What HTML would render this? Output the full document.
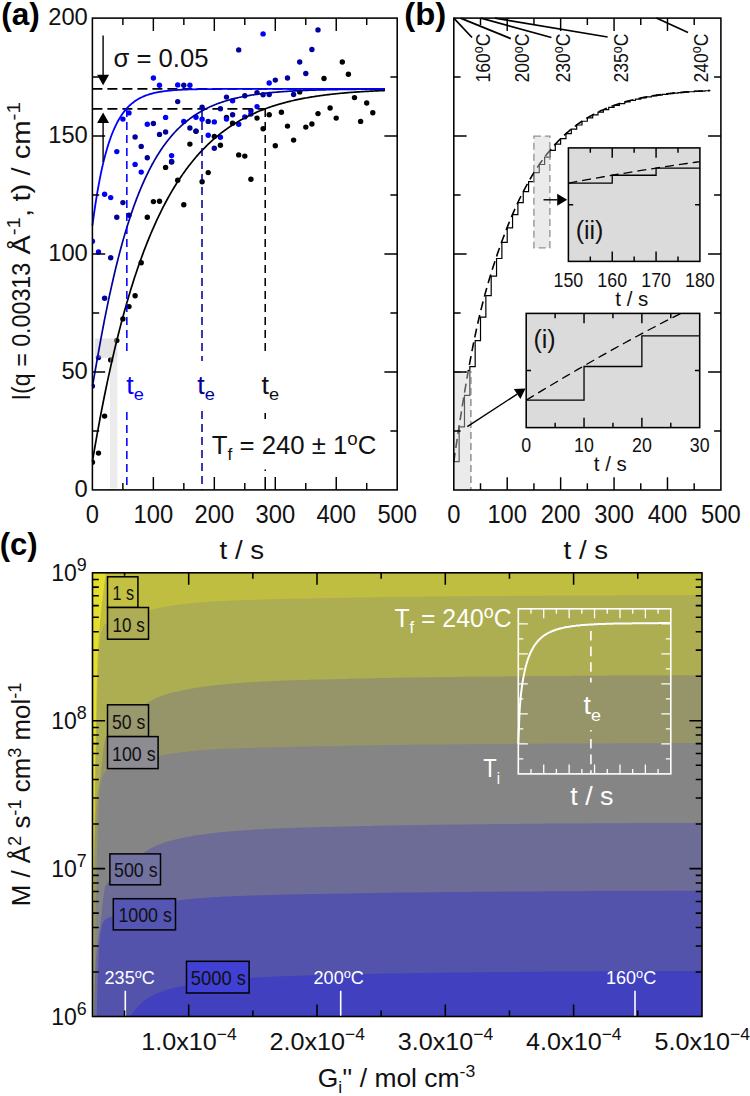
<!DOCTYPE html>
<html><head><meta charset="utf-8"><title>figure</title>
<style>html,body{margin:0;padding:0;background:#fff}svg{display:block}text{font-family:"Liberation Sans", sans-serif;}</style></head>
<body>
<svg width="750" height="1096" viewBox="0 0 750 1096">
<rect width="750" height="1096" fill="#fff"/>
<g id="panelA">
<line x1="92.40" y1="88.87" x2="385.01" y2="88.87" stroke="#000" stroke-width="1.6" stroke-dasharray="10 5"/>
<line x1="92.40" y1="108.92" x2="264.92" y2="108.92" stroke="#000" stroke-width="1.6" stroke-dasharray="10 5"/>
<clipPath id="clipA"><rect x="92.4" y="18.1" width="304.8" height="471.8"/></clipPath>
<g fill="#000" clip-path="url(#clipA)"><circle cx="92.4" cy="462.3" r="2.7"/><circle cx="98.5" cy="453.1" r="2.7"/><circle cx="104.6" cy="416.1" r="2.7"/><circle cx="110.7" cy="359.9" r="2.7"/><circle cx="116.8" cy="340.6" r="2.7"/><circle cx="122.9" cy="318.9" r="2.7"/><circle cx="129.0" cy="306.6" r="2.7"/><circle cx="135.1" cy="295.8" r="2.7"/><circle cx="141.2" cy="262.7" r="2.7"/><circle cx="147.3" cy="217.2" r="2.7"/><circle cx="153.4" cy="201.6" r="2.7"/><circle cx="159.5" cy="201.2" r="2.7"/><circle cx="165.6" cy="167.4" r="2.7"/><circle cx="171.6" cy="162.0" r="2.7"/><circle cx="177.7" cy="180.2" r="2.7"/><circle cx="183.8" cy="204.7" r="2.7"/><circle cx="189.9" cy="144.1" r="2.7"/><circle cx="196.0" cy="131.3" r="2.7"/><circle cx="202.1" cy="181.8" r="2.7"/><circle cx="208.2" cy="172.6" r="2.7"/><circle cx="214.3" cy="136.5" r="2.7"/><circle cx="220.4" cy="145.3" r="2.7"/><circle cx="226.5" cy="117.4" r="2.7"/><circle cx="232.6" cy="123.3" r="2.7"/><circle cx="238.7" cy="154.9" r="2.7"/><circle cx="244.8" cy="156.1" r="2.7"/><circle cx="250.9" cy="179.2" r="2.7"/><circle cx="257.0" cy="118.1" r="2.7"/><circle cx="263.1" cy="128.7" r="2.7"/><circle cx="269.2" cy="114.8" r="2.7"/><circle cx="275.3" cy="145.7" r="2.7"/><circle cx="281.4" cy="112.2" r="2.7"/><circle cx="287.5" cy="126.1" r="2.7"/><circle cx="293.6" cy="140.1" r="2.7"/><circle cx="299.7" cy="91.9" r="2.7"/><circle cx="305.8" cy="127.1" r="2.7"/><circle cx="311.9" cy="124.0" r="2.7"/><circle cx="318.0" cy="113.6" r="2.7"/><circle cx="324.0" cy="78.5" r="2.7"/><circle cx="330.1" cy="108.0" r="2.7"/><circle cx="336.2" cy="118.1" r="2.7"/><circle cx="342.3" cy="62.0" r="2.7"/><circle cx="348.4" cy="74.2" r="2.7"/><circle cx="354.5" cy="97.6" r="2.7"/><circle cx="360.6" cy="121.4" r="2.7"/><circle cx="366.7" cy="103.0" r="2.7"/><circle cx="372.8" cy="112.7" r="2.7"/></g>
<g fill="#00009a" clip-path="url(#clipA)"><circle cx="92.4" cy="386.1" r="2.7"/><circle cx="98.5" cy="357.6" r="2.7"/><circle cx="104.6" cy="298.3" r="2.7"/><circle cx="110.7" cy="257.8" r="2.7"/><circle cx="116.8" cy="217.2" r="2.7"/><circle cx="122.9" cy="202.6" r="2.7"/><circle cx="129.0" cy="215.3" r="2.7"/><circle cx="135.1" cy="137.0" r="2.7"/><circle cx="141.2" cy="146.4" r="2.7"/><circle cx="147.3" cy="157.8" r="2.7"/><circle cx="153.4" cy="123.5" r="2.7"/><circle cx="159.5" cy="134.4" r="2.7"/><circle cx="165.6" cy="132.0" r="2.7"/><circle cx="171.6" cy="161.5" r="2.7"/><circle cx="177.7" cy="101.6" r="2.7"/><circle cx="183.8" cy="85.3" r="2.7"/><circle cx="189.9" cy="128.0" r="2.7"/><circle cx="196.0" cy="131.1" r="2.7"/><circle cx="202.1" cy="107.3" r="2.7"/><circle cx="208.2" cy="121.4" r="2.7"/><circle cx="214.3" cy="148.3" r="2.7"/><circle cx="220.4" cy="108.7" r="2.7"/><circle cx="226.5" cy="97.1" r="2.7"/><circle cx="232.6" cy="114.8" r="2.7"/><circle cx="238.7" cy="49.9" r="2.7"/><circle cx="244.8" cy="95.7" r="2.7"/><circle cx="250.9" cy="110.8" r="2.7"/><circle cx="257.0" cy="92.6" r="2.7"/><circle cx="263.1" cy="94.8" r="2.7"/><circle cx="269.2" cy="94.5" r="2.7"/><circle cx="275.3" cy="80.1" r="2.7"/><circle cx="287.5" cy="78.0" r="2.7"/><circle cx="293.6" cy="94.5" r="2.7"/><circle cx="299.7" cy="62.0" r="2.7"/><circle cx="305.8" cy="73.5" r="2.7"/><circle cx="311.9" cy="49.5" r="2.7"/><circle cx="318.0" cy="29.9" r="2.7"/></g>
<g fill="#0000ff" clip-path="url(#clipA)"><circle cx="92.4" cy="241.3" r="2.7"/><circle cx="98.5" cy="251.9" r="2.7"/><circle cx="104.6" cy="194.3" r="2.7"/><circle cx="110.7" cy="197.6" r="2.7"/><circle cx="116.8" cy="151.6" r="2.7"/><circle cx="122.9" cy="119.1" r="2.7"/><circle cx="129.0" cy="112.9" r="2.7"/><circle cx="135.1" cy="164.4" r="2.7"/><circle cx="141.2" cy="172.1" r="2.7"/><circle cx="147.3" cy="124.3" r="2.7"/><circle cx="153.4" cy="78.0" r="2.7"/><circle cx="159.5" cy="85.3" r="2.7"/><circle cx="165.6" cy="117.4" r="2.7"/><circle cx="171.6" cy="155.6" r="2.7"/><circle cx="177.7" cy="84.9" r="2.7"/><circle cx="183.8" cy="121.4" r="2.7"/><circle cx="189.9" cy="85.3" r="2.7"/><circle cx="196.0" cy="117.2" r="2.7"/><circle cx="202.1" cy="119.3" r="2.7"/><circle cx="208.2" cy="135.3" r="2.7"/><circle cx="214.3" cy="121.9" r="2.7"/><circle cx="220.4" cy="137.2" r="2.7"/><circle cx="226.5" cy="119.1" r="2.7"/><circle cx="232.6" cy="100.7" r="2.7"/><circle cx="238.7" cy="124.3" r="2.7"/><circle cx="244.8" cy="116.9" r="2.7"/><circle cx="250.9" cy="114.1" r="2.7"/><circle cx="257.0" cy="106.6" r="2.7"/><circle cx="263.1" cy="33.9" r="2.7"/><circle cx="269.2" cy="83.0" r="2.7"/></g>
<rect x="94.9" y="338.4" width="15.1" height="19.4" fill="#c0c0c0" opacity="0.42"/>
<rect x="110" y="338.4" width="7.4" height="19.4" fill="#c0c0c0" opacity="0.45"/>
<rect x="110" y="357.8" width="7.4" height="130.6" fill="#d1d1d1" opacity="0.43"/>
<path d="M92.40 461.59L93.62 454.35L94.84 447.26L96.06 440.30L97.28 433.47L98.50 426.78L99.72 420.22L100.93 413.78L102.15 407.47L103.37 401.28L104.59 395.21L105.81 389.26L107.03 383.42L108.25 377.69L109.47 372.08L110.69 366.57L111.91 361.17L113.13 355.87L114.35 350.67L115.56 345.57L116.78 340.57L118.00 335.67L119.22 330.86L120.44 326.14L121.66 321.52L122.88 316.98L124.10 312.53L125.32 308.16L126.54 303.88L127.76 299.67L128.98 295.55L130.20 291.51L131.41 287.54L132.63 283.65L133.85 279.84L135.07 276.10L136.29 272.42L137.51 268.82L138.73 265.29L139.95 261.82L141.17 258.42L142.39 255.09L143.61 251.82L144.83 248.61L146.04 245.46L147.26 242.37L148.48 239.34L149.70 236.37L150.92 233.46L152.14 230.60L153.36 227.79L154.58 225.04L155.80 222.34L157.02 219.69L158.24 217.09L159.46 214.55L160.68 212.05L161.89 209.59L163.11 207.19L164.33 204.83L165.55 202.51L166.77 200.24L167.99 198.02L169.21 195.83L170.43 193.69L171.65 191.59L172.87 189.52L174.09 187.50L175.31 185.52L176.52 183.57L177.74 181.66L178.96 179.79L180.18 177.95L181.40 176.15L182.62 174.38L183.84 172.65L185.06 170.95L186.28 169.28L187.50 167.65L188.72 166.04L189.94 164.47L191.16 162.93L192.37 161.41L193.59 159.93L194.81 158.47L196.03 157.04L197.25 155.64L198.47 154.27L199.69 152.92L200.91 151.60L202.13 150.31L203.35 149.04L204.57 147.79L205.79 146.57L207.00 145.37L208.22 144.20L209.44 143.04L210.66 141.92L211.88 140.81L213.10 139.72L214.32 138.66L215.54 137.61L216.76 136.59L217.98 135.59L219.20 134.60L220.42 133.64L221.64 132.69L222.85 131.76L224.07 130.86L225.29 129.96L226.51 129.09L227.73 128.23L228.95 127.39L230.17 126.57L231.39 125.76L232.61 124.97L233.83 124.20L235.05 123.44L236.27 122.69L237.48 121.97L238.70 121.25L239.92 120.55L241.14 119.86L242.36 119.19L243.58 118.53L244.80 117.88L246.02 117.25L247.24 116.63L248.46 116.02L249.68 115.42L250.90 114.84L252.12 114.27L253.33 113.71L254.55 113.16L255.77 112.62L256.99 112.09L258.21 111.58L259.43 111.07L260.65 110.57L261.87 110.09L263.09 109.61L264.31 109.15L265.53 108.69L266.75 108.25L267.96 107.81L269.18 107.38L270.40 106.96L271.62 106.55L272.84 106.15L274.06 105.75L275.28 105.37L276.50 104.99L277.72 104.62L278.94 104.26L280.16 103.90L281.38 103.56L282.60 103.22L283.81 102.88L285.03 102.56L286.25 102.24L287.47 101.93L288.69 101.62L289.91 101.32L291.13 101.03L292.35 100.75L293.57 100.47L294.79 100.19L296.01 99.92L297.23 99.66L298.44 99.41L299.66 99.15L300.88 98.91L302.10 98.67L303.32 98.43L304.54 98.20L305.76 97.98L306.98 97.76L308.20 97.54L309.42 97.33L310.64 97.13L311.86 96.93L313.08 96.73L314.29 96.54L315.51 96.35L316.73 96.17L317.95 95.99L319.17 95.81L320.39 95.64L321.61 95.47L322.83 95.31L324.05 95.15L325.27 94.99L326.49 94.84L327.71 94.69L328.92 94.54L330.14 94.40L331.36 94.26L332.58 94.12L333.80 93.99L335.02 93.86L336.24 93.73L337.46 93.61L338.68 93.48L339.90 93.37L341.12 93.25L342.34 93.14L343.56 93.03L344.77 92.92L345.99 92.81L347.21 92.71L348.43 92.61L349.65 92.51L350.87 92.42L352.09 92.32L353.31 92.23L354.53 92.14L355.75 92.06L356.97 91.97L358.19 91.89L359.40 91.81L360.62 91.73L361.84 91.65L363.06 91.58L364.28 91.50L365.50 91.43L366.72 91.36L367.94 91.30L369.16 91.23L370.38 91.16L371.60 91.10L372.82 91.04L374.04 90.98L375.25 90.92L376.47 90.87L377.69 90.81L378.91 90.76L380.13 90.70L381.35 90.65L382.57 90.60L383.79 90.55L385.01 90.51" fill="none" stroke="#000" stroke-width="1.7"/>
<path d="M92.40 386.10L93.62 379.60L94.84 372.71L96.06 365.77L97.28 358.87L98.50 352.03L99.72 345.29L100.93 338.65L102.15 332.13L103.37 325.73L104.59 319.46L105.81 313.32L107.03 307.31L108.25 301.44L109.47 295.69L110.69 290.08L111.91 284.60L113.13 279.24L114.35 274.02L115.56 268.92L116.78 263.95L118.00 259.10L119.22 254.37L120.44 249.76L121.66 245.27L122.88 240.89L124.10 236.62L125.32 232.47L126.54 228.42L127.76 224.48L128.98 220.64L130.20 216.90L131.41 213.26L132.63 209.72L133.85 206.27L135.07 202.92L136.29 199.66L137.51 196.48L138.73 193.39L139.95 190.39L141.17 187.46L142.39 184.62L143.61 181.85L144.83 179.16L146.04 176.55L147.26 174.01L148.48 171.53L149.70 169.13L150.92 166.79L152.14 164.52L153.36 162.31L154.58 160.17L155.80 158.08L157.02 156.05L158.24 154.08L159.46 152.17L160.68 150.31L161.89 148.50L163.11 146.75L164.33 145.04L165.55 143.38L166.77 141.77L167.99 140.21L169.21 138.69L170.43 137.22L171.65 135.78L172.87 134.39L174.09 133.04L175.31 131.73L176.52 130.45L177.74 129.21L178.96 128.01L180.18 126.84L181.40 125.71L182.62 124.61L183.84 123.54L185.06 122.50L186.28 121.50L187.50 120.52L188.72 119.57L189.94 118.65L191.16 117.75L192.37 116.88L193.59 116.04L194.81 115.22L196.03 114.43L197.25 113.66L198.47 112.91L199.69 112.19L200.91 111.48L202.13 110.80L203.35 110.14L204.57 109.49L205.79 108.87L207.00 108.26L208.22 107.67L209.44 107.10L210.66 106.55L211.88 106.01L213.10 105.49L214.32 104.99L215.54 104.49L216.76 104.02L217.98 103.56L219.20 103.11L220.42 102.68L221.64 102.25L222.85 101.85L224.07 101.45L225.29 101.06L226.51 100.69L227.73 100.33L228.95 99.98L230.17 99.64L231.39 99.31L232.61 98.99L233.83 98.68L235.05 98.38L236.27 98.08L237.48 97.80L238.70 97.53L239.92 97.26L241.14 97.00L242.36 96.75L243.58 96.51L244.80 96.27L246.02 96.05L247.24 95.82L248.46 95.61L249.68 95.40L250.90 95.20L252.12 95.00L253.33 94.81L254.55 94.63L255.77 94.45L256.99 94.28L258.21 94.11L259.43 93.95L260.65 93.79L261.87 93.64L263.09 93.49L264.31 93.35L265.53 93.21L266.75 93.07L267.96 92.94L269.18 92.82L270.40 92.69L271.62 92.57L272.84 92.46L274.06 92.35L275.28 92.24L276.50 92.13L277.72 92.03L278.94 91.93L280.16 91.84L281.38 91.75L282.60 91.66L283.81 91.57L285.03 91.48L286.25 91.40L287.47 91.32L288.69 91.25L289.91 91.17L291.13 91.10L292.35 91.03L293.57 90.96L294.79 90.90L296.01 90.83L297.23 90.77L298.44 90.71L299.66 90.65L300.88 90.60L302.10 90.54L303.32 90.49L304.54 90.44L305.76 90.39L306.98 90.34L308.20 90.30L309.42 90.25L310.64 90.21L311.86 90.17L313.08 90.13L314.29 90.09L315.51 90.05L316.73 90.01L317.95 89.97L319.17 89.94L320.39 89.91L321.61 89.87L322.83 89.84L324.05 89.81L325.27 89.78L326.49 89.75L327.71 89.72L328.92 89.70L330.14 89.67L331.36 89.65L332.58 89.62L333.80 89.60L335.02 89.57L336.24 89.55L337.46 89.53L338.68 89.51L339.90 89.49L341.12 89.47L342.34 89.45L343.56 89.43L344.77 89.41L345.99 89.40L347.21 89.38L348.43 89.36L349.65 89.35L350.87 89.33L352.09 89.32L353.31 89.30L354.53 89.29L355.75 89.28L356.97 89.26L358.19 89.25L359.40 89.24L360.62 89.23L361.84 89.22L363.06 89.21L364.28 89.19L365.50 89.18L366.72 89.17L367.94 89.16L369.16 89.15L370.38 89.15L371.60 89.14L372.82 89.13L374.04 89.12L375.25 89.11L376.47 89.10L377.69 89.10L378.91 89.09L380.13 89.08L381.35 89.08L382.57 89.07L383.79 89.06L385.01 89.06" fill="none" stroke="#00009a" stroke-width="1.7"/>
<path d="M92.40 225.69L93.62 216.57L94.84 208.06L96.06 200.12L97.28 192.71L98.50 185.79L99.72 179.33L100.93 173.30L102.15 167.67L103.37 162.42L104.59 157.52L105.81 152.95L107.03 148.68L108.25 144.69L109.47 140.97L110.69 137.50L111.91 134.26L113.13 131.23L114.35 128.41L115.56 125.77L116.78 123.32L118.00 121.02L119.22 118.88L120.44 116.88L121.66 115.01L122.88 113.27L124.10 111.64L125.32 110.13L126.54 108.71L127.76 107.39L128.98 106.15L130.20 105.00L131.41 103.93L132.63 102.92L133.85 101.99L135.07 101.11L136.29 100.30L137.51 99.53L138.73 98.82L139.95 98.16L141.17 97.54L142.39 96.96L143.61 96.42L144.83 95.92L146.04 95.45L147.26 95.01L148.48 94.60L149.70 94.22L150.92 93.86L152.14 93.53L153.36 93.22L154.58 92.93L155.80 92.66L157.02 92.41L158.24 92.17L159.46 91.95L160.68 91.75L161.89 91.55L163.11 91.38L164.33 91.21L165.55 91.05L166.77 90.91L167.99 90.77L169.21 90.65L170.43 90.53L171.65 90.42L172.87 90.31L174.09 90.22L175.31 90.13L176.52 90.04L177.74 89.97L178.96 89.89L180.18 89.82L181.40 89.76L182.62 89.70L183.84 89.65L185.06 89.59L186.28 89.55L187.50 89.50L188.72 89.46L189.94 89.42L191.16 89.38L192.37 89.35L193.59 89.32L194.81 89.29L196.03 89.26L197.25 89.23L198.47 89.21L199.69 89.19L200.91 89.17L202.13 89.15L203.35 89.13L204.57 89.11L205.79 89.09L207.00 89.08L208.22 89.07L209.44 89.05L210.66 89.04L211.88 89.03L213.10 89.02L214.32 89.01L215.54 89.00L216.76 88.99L217.98 88.98L219.20 88.98L220.42 88.97L221.64 88.96L222.85 88.96L224.07 88.95L225.29 88.94L226.51 88.94L227.73 88.93L228.95 88.93L230.17 88.93L231.39 88.92L232.61 88.92L233.83 88.92L235.05 88.91L236.27 88.91L237.48 88.91L238.70 88.90L239.92 88.90L241.14 88.90L242.36 88.90L243.58 88.90L244.80 88.89L246.02 88.89L247.24 88.89L248.46 88.89L249.68 88.89L250.90 88.89L252.12 88.89L253.33 88.89L254.55 88.88L255.77 88.88L256.99 88.88L258.21 88.88L259.43 88.88L260.65 88.88L261.87 88.88L263.09 88.88L264.31 88.88L265.53 88.88L266.75 88.88L267.96 88.88L269.18 88.88L270.40 88.88L271.62 88.88L272.84 88.88L274.06 88.87L275.28 88.87L276.50 88.87L277.72 88.87L278.94 88.87L280.16 88.87L281.38 88.87L282.60 88.87L283.81 88.87L285.03 88.87L286.25 88.87L287.47 88.87L288.69 88.87L289.91 88.87L291.13 88.87L292.35 88.87L293.57 88.87L294.79 88.87L296.01 88.87L297.23 88.87L298.44 88.87L299.66 88.87L300.88 88.87L302.10 88.87L303.32 88.87L304.54 88.87L305.76 88.87L306.98 88.87L308.20 88.87L309.42 88.87L310.64 88.87L311.86 88.87L313.08 88.87L314.29 88.87L315.51 88.87L316.73 88.87L317.95 88.87L319.17 88.87L320.39 88.87L321.61 88.87L322.83 88.87L324.05 88.87L325.27 88.87L326.49 88.87L327.71 88.87L328.92 88.87L330.14 88.87L331.36 88.87L332.58 88.87L333.80 88.87L335.02 88.87L336.24 88.87L337.46 88.87L338.68 88.87L339.90 88.87L341.12 88.87L342.34 88.87L343.56 88.87L344.77 88.87L345.99 88.87L347.21 88.87L348.43 88.87L349.65 88.87L350.87 88.87L352.09 88.87L353.31 88.87L354.53 88.87L355.75 88.87L356.97 88.87L358.19 88.87L359.40 88.87L360.62 88.87L361.84 88.87L363.06 88.87L364.28 88.87L365.50 88.87L366.72 88.87L367.94 88.87L369.16 88.87L370.38 88.87L371.60 88.87L372.82 88.87L374.04 88.87L375.25 88.87L376.47 88.87L377.69 88.87L378.91 88.87L380.13 88.87L381.35 88.87L382.57 88.87L383.79 88.87L385.01 88.87" fill="none" stroke="#0000ff" stroke-width="1.8"/>
<line x1="126.84" y1="108.92" x2="126.84" y2="354.00" stroke="#0000ff" stroke-width="1.55" stroke-dasharray="8 5"/>
<line x1="126.84" y1="412.00" x2="126.84" y2="489.90" stroke="#0000ff" stroke-width="1.55" stroke-dasharray="8 5"/>
<line x1="202.01" y1="108.92" x2="202.01" y2="361.00" stroke="#00009a" stroke-width="1.55" stroke-dasharray="8 5"/>
<line x1="202.01" y1="411.00" x2="202.01" y2="489.90" stroke="#00009a" stroke-width="1.55" stroke-dasharray="8 5"/>
<line x1="265.22" y1="108.92" x2="265.22" y2="353.00" stroke="#000" stroke-width="1.55" stroke-dasharray="8 5"/>
<line x1="265.22" y1="413.00" x2="265.22" y2="419.00" stroke="#000" stroke-width="1.55" />
<line x1="265.22" y1="469.50" x2="265.22" y2="471.00" stroke="#000" stroke-width="1.55" />
<line x1="265.22" y1="477.00" x2="265.22" y2="489.90" stroke="#000" stroke-width="1.55" />
<line x1="103.10" y1="35.50" x2="103.10" y2="76.80" stroke="#000" stroke-width="1.4" />
<path d="M103.1 85.2L97.1 74.7L109.1 74.7Z" fill="#000"/>
<line x1="103.10" y1="162.00" x2="103.10" y2="120.80" stroke="#000" stroke-width="1.4" />
<path d="M103.1 112.4L97.1 122.9L109.1 122.9Z" fill="#000"/>
<path d="M153.36 489.90v-12.8M153.36 18.10v12.8M214.32 489.90v-12.8M214.32 18.10v12.8M275.28 489.90v-12.8M275.28 18.10v12.8M336.24 489.90v-12.8M336.24 18.10v12.8M122.88 489.90v-6.8M122.88 18.10v6.8M183.84 489.90v-6.8M183.84 18.10v6.8M244.80 489.90v-6.8M244.80 18.10v6.8M305.76 489.90v-6.8M305.76 18.10v6.8M366.72 489.90v-6.8M366.72 18.10v6.8M92.40 371.95h12.8M397.20 371.95h-12.8M92.40 254.00h12.8M397.20 254.00h-12.8M92.40 136.05h12.8M397.20 136.05h-12.8M92.40 430.92h6.8M397.20 430.92h-6.8M92.40 312.97h6.8M397.20 312.97h-6.8M92.40 195.03h6.8M397.20 195.03h-6.8M92.40 77.08h6.8M397.20 77.08h-6.8" stroke="#000" stroke-width="1.45" fill="none"/>
<rect x="92.40" y="18.10" width="304.80" height="471.80" fill="none" stroke="#000" stroke-width="1.55"/>
<text x="87.8" y="496.6" font-size="24.8" text-anchor="end" fill="#111" textLength="13.2" lengthAdjust="spacingAndGlyphs" >0</text>
<text x="87.8" y="378.6" font-size="24.8" text-anchor="end" fill="#111" textLength="26.4" lengthAdjust="spacingAndGlyphs" >50</text>
<text x="87.8" y="260.7" font-size="24.8" text-anchor="end" fill="#111" textLength="39.6" lengthAdjust="spacingAndGlyphs" >100</text>
<text x="87.8" y="142.7" font-size="24.8" text-anchor="end" fill="#111" textLength="39.6" lengthAdjust="spacingAndGlyphs" >150</text>
<text x="87.8" y="24.8" font-size="24.8" text-anchor="end" fill="#111" textLength="39.6" lengthAdjust="spacingAndGlyphs" >200</text>
<text x="85.8" y="523.2" font-size="25.2" text-anchor="start" fill="#111" textLength="13.2" lengthAdjust="spacingAndGlyphs" >0</text>
<text x="133.6" y="523.2" font-size="25.2" text-anchor="start" fill="#111" textLength="39.6" lengthAdjust="spacingAndGlyphs" >100</text>
<text x="194.5" y="523.2" font-size="25.2" text-anchor="start" fill="#111" textLength="39.6" lengthAdjust="spacingAndGlyphs" >200</text>
<text x="255.5" y="523.2" font-size="25.2" text-anchor="start" fill="#111" textLength="39.6" lengthAdjust="spacingAndGlyphs" >300</text>
<text x="316.4" y="523.2" font-size="25.2" text-anchor="start" fill="#111" textLength="39.6" lengthAdjust="spacingAndGlyphs" >400</text>
<text x="377.4" y="523.2" font-size="25.2" text-anchor="start" fill="#111" textLength="39.6" lengthAdjust="spacingAndGlyphs" >500</text>
<text x="219.6" y="558.6" font-size="25.5" text-anchor="start" fill="#111" textLength="44.6" lengthAdjust="spacingAndGlyphs" >t / s</text>
<text transform="translate(29.9 400.4) rotate(-90)" font-size="25.5" fill="#111" textLength="137.6" lengthAdjust="spacingAndGlyphs">I(q = 0.00313</text>
<text transform="translate(29.9 254.6) rotate(-90)" font-size="25.5" fill="#111" textLength="45.6" lengthAdjust="spacingAndGlyphs">Å<tspan font-size="18" dy="-9.5">-1</tspan><tspan dy="9.5">,</tspan></text>
<text transform="translate(29.9 201.6) rotate(-90)" font-size="25.5" fill="#111" textLength="99.6" lengthAdjust="spacingAndGlyphs">t) / cm<tspan font-size="18" dy="-9.5">-1</tspan></text>
<text x="113.5" y="67.0" font-size="25.5" text-anchor="start" fill="#111" textLength="95.0" lengthAdjust="spacingAndGlyphs" >σ = 0.05</text>
<text x="211.8" y="454.2" font-size="25.5" fill="#111" textLength="164.5" lengthAdjust="spacingAndGlyphs">T<tspan font-size="17" dy="6">f</tspan><tspan dy="-6"> = 240 ± 1</tspan><tspan font-size="18.5" dy="-9.5">o</tspan><tspan dy="9.5">C</tspan></text>
<text x="126.2" y="393.6" font-size="25.5" fill="#0000ff" textLength="17.6" lengthAdjust="spacingAndGlyphs">t<tspan font-size="17.3" dy="6.5">e</tspan></text>
<text x="197.2" y="393.6" font-size="25.5" fill="#00009a" textLength="17.6" lengthAdjust="spacingAndGlyphs">t<tspan font-size="17.3" dy="6.5">e</tspan></text>
<text x="261.6" y="393.6" font-size="25.5" fill="#111" textLength="17.6" lengthAdjust="spacingAndGlyphs">t<tspan font-size="17.3" dy="6.5">e</tspan></text>
<text x="1.2" y="24.6" font-size="31" text-anchor="start" fill="#000" textLength="38.6" lengthAdjust="spacingAndGlyphs" font-weight="bold" >(a)</text>
</g>
<g id="panelB">
<line x1="453.80" y1="18.10" x2="472.00" y2="37.50" stroke="#000" stroke-width="1.7" />
<line x1="460.50" y1="18.10" x2="510.80" y2="38.60" stroke="#000" stroke-width="1.7" />
<line x1="481.00" y1="18.10" x2="551.40" y2="37.50" stroke="#000" stroke-width="1.7" />
<line x1="495.00" y1="18.10" x2="607.60" y2="37.00" stroke="#000" stroke-width="1.7" />
<line x1="656.40" y1="18.10" x2="688.00" y2="32.40" stroke="#000" stroke-width="1.7" />
<text transform="translate(489.5 82.6) rotate(-90)" font-size="20.5" fill="#111" textLength="49.0" lengthAdjust="spacingAndGlyphs">160<tspan font-size="14.5" dy="-6.3">o</tspan><tspan dy="6.3">C</tspan></text>
<text transform="translate(529.2 82.6) rotate(-90)" font-size="20.5" fill="#111" textLength="49.0" lengthAdjust="spacingAndGlyphs">200<tspan font-size="14.5" dy="-6.3">o</tspan><tspan dy="6.3">C</tspan></text>
<text transform="translate(569.6 82.6) rotate(-90)" font-size="20.5" fill="#111" textLength="49.0" lengthAdjust="spacingAndGlyphs">230<tspan font-size="14.5" dy="-6.3">o</tspan><tspan dy="6.3">C</tspan></text>
<text transform="translate(628.4 82.6) rotate(-90)" font-size="20.5" fill="#111" textLength="49.0" lengthAdjust="spacingAndGlyphs">235<tspan font-size="14.5" dy="-6.3">o</tspan><tspan dy="6.3">C</tspan></text>
<text transform="translate(707.6 82.6) rotate(-90)" font-size="20.5" fill="#111" textLength="49.0" lengthAdjust="spacingAndGlyphs">240<tspan font-size="14.5" dy="-6.3">o</tspan><tspan dy="6.3">C</tspan></text>
<path d="M453.80 461.69L454.87 454.42L455.94 447.23L457.01 440.13L458.07 433.11L459.14 426.18L460.21 419.33L461.28 412.57L462.35 405.91L463.42 399.35L464.48 392.90L465.55 386.56L466.62 380.34L467.69 374.24L468.76 368.27L469.83 362.44L470.89 356.74L471.96 351.18L473.03 345.76L474.10 340.49L475.17 335.35L476.24 330.36L477.30 325.51L478.37 320.79L479.44 316.20L480.51 311.74L481.58 307.41L482.65 303.19L483.72 299.08L484.78 295.08L485.85 291.18L486.92 287.37L487.99 283.65L489.06 280.02L490.13 276.46L491.19 272.98L492.26 269.56L493.33 266.21L494.40 262.91L495.47 259.68L496.54 256.50L497.60 253.37L498.67 250.29L499.74 247.26L500.81 244.28L501.88 241.34L502.95 238.45L504.01 235.60L505.08 232.79L506.15 230.03L507.22 227.31L508.29 224.64L509.36 222.01L510.43 219.42L511.49 216.87L512.56 214.36L513.63 211.90L514.70 209.48L515.77 207.10L516.84 204.76L517.90 202.47L518.97 200.21L520.04 198.00L521.11 195.82L522.18 193.69L523.25 191.59L524.31 189.54L525.38 187.52L526.45 185.54L527.52 183.59L528.59 181.69L529.66 179.82L530.72 177.98L531.79 176.18L532.86 174.41L533.93 172.68L535.00 170.98L536.07 169.31L537.14 167.68L538.20 166.07L539.27 164.50L540.34 162.96L541.41 161.44L542.48 159.96L543.55 158.50L544.61 157.07L545.68 155.67L546.75 154.30L547.82 152.95L548.89 151.63L549.96 150.33L551.02 149.06L552.09 147.82L553.16 146.60L554.23 145.40L555.30 144.22L556.37 143.07L557.43 141.94L558.50 140.83L559.57 139.75L560.64 138.68L561.71 137.64L562.78 136.61L563.85 135.61L564.91 134.63L565.98 133.66L567.05 132.72L568.12 131.79L569.19 130.88L570.26 129.99L571.32 129.11L572.39 128.26L573.46 127.42L574.53 126.59L575.60 125.79L576.67 125.00L577.73 124.22L578.80 123.46L579.87 122.72L580.94 121.99L582.01 121.27L583.08 120.57L584.14 119.88L585.21 119.21L586.28 118.55L587.35 117.90L588.42 117.27L589.49 116.65L590.56 116.04L591.62 115.44L592.69 114.86L593.76 114.29L594.83 113.73L595.90 113.18L596.97 112.64L598.03 112.11L599.10 111.60L600.17 111.09L601.24 110.59L602.31 110.11L603.38 109.63L604.44 109.17L605.51 108.71L606.58 108.26L607.65 107.83L608.72 107.40L609.79 106.98L610.85 106.57L611.92 106.17L612.99 105.77L614.06 105.39L615.13 105.01L616.20 104.64L617.27 104.28L618.33 103.92L619.40 103.57L620.47 103.23L621.54 102.90L622.61 102.58L623.68 102.26L624.74 101.95L625.81 101.64L626.88 101.34L627.95 101.05L629.02 100.76L630.09 100.48L631.15 100.21L632.22 99.94L633.29 99.68L634.36 99.42L635.43 99.17L636.50 98.93L637.56 98.69L638.63 98.45L639.70 98.22L640.77 98.00L641.84 97.78L642.91 97.56L643.98 97.35L645.04 97.14L646.11 96.94L647.18 96.75L648.25 96.55L649.32 96.37L650.39 96.18L651.45 96.00L652.52 95.83L653.59 95.65L654.66 95.49L655.73 95.32L656.80 95.16L657.86 95.01L658.93 94.85L660.00 94.70L661.07 94.56L662.14 94.41L663.21 94.27L664.27 94.14L665.34 94.00L666.41 93.87L667.48 93.75L668.55 93.62L669.62 93.50L670.69 93.38L671.75 93.27L672.82 93.15L673.89 93.04L674.96 92.93L676.03 92.83L677.10 92.73L678.16 92.63L679.23 92.53L680.30 92.43L681.37 92.34L682.44 92.25L683.51 92.16L684.57 92.07L685.64 91.99L686.71 91.90L687.78 91.82L688.85 91.74L689.92 91.67L690.98 91.59L692.05 91.52L693.12 91.45L694.19 91.38L695.26 91.31L696.33 91.24L697.40 91.18L698.46 91.12L699.53 91.06L700.60 91.00L701.67 90.94L702.74 90.88L703.81 90.83L704.87 90.77L705.94 90.72L707.01 90.67L708.08 90.62L709.15 90.57L710.22 90.52" fill="none" stroke="#000" stroke-width="1.6" stroke-dasharray="9 5"/>
<path d="M453.80 461.69H459.14V426.87H464.48V395.29H469.83V366.64H475.17V340.64H480.51V317.04H485.85V295.61H491.19V276.15H496.54V258.48H501.88V242.42H507.22V227.84H512.56V214.59H517.90V202.55H523.25V191.62H528.59V181.70H533.93V172.68H539.27V164.50H544.61V157.07H549.96V150.33H555.30V144.22H560.64V138.68H565.98V133.66H571.32V129.11H576.67V125.00H582.01V121.27H587.35V117.90H592.69V114.86H598.03V112.11H603.38V109.63H608.72V107.40H614.06V105.39H619.40V103.57H624.74V101.95H630.09V100.48H635.43V99.17H640.77V98.00H646.11V96.94H651.45V96.00H656.80V95.16H662.14V94.41H667.48V93.75H672.82V93.15H678.16V92.63H683.51V92.16H688.85V91.74H694.19V91.38H699.53V91.06H704.87V90.77H710.22" fill="none" stroke="#000" stroke-width="1.2"/>
<rect x="454.4" y="372.0" width="16.5" height="118.0" fill="#d1d1d1" opacity="0.43"/>
<path d="M453.8 372.0H470.9V490.0" fill="none" stroke="#808080" stroke-width="1.3" stroke-dasharray="7 4"/>
<rect x="533.9" y="136.1" width="16.0" height="111.8" fill="#d1d1d1" fill-opacity="0.43" stroke="#909090" stroke-width="1.3" stroke-dasharray="7 4"/>
<path d="M507.22 490.00v-12.8M507.22 18.10v12.8M560.64 490.00v-12.8M560.64 18.10v12.8M614.06 490.00v-12.8M614.06 18.10v12.8M667.48 490.00v-12.8M667.48 18.10v12.8M480.51 490.00v-6.8M480.51 18.10v6.8M533.93 490.00v-6.8M533.93 18.10v6.8M587.35 490.00v-6.8M587.35 18.10v6.8M640.77 490.00v-6.8M640.77 18.10v6.8M694.19 490.00v-6.8M694.19 18.10v6.8M453.80 372.02h12.8M720.90 372.02h-12.8M453.80 254.05h12.8M720.90 254.05h-12.8M453.80 136.07h12.8M720.90 136.07h-12.8M453.80 431.01h6.8M720.90 431.01h-6.8M453.80 313.04h6.8M720.90 313.04h-6.8M453.80 195.06h6.8M720.90 195.06h-6.8M453.80 77.09h6.8M720.90 77.09h-6.8" stroke="#000" stroke-width="1.45" fill="none"/>
<rect x="453.80" y="18.10" width="267.10" height="471.90" fill="none" stroke="#000" stroke-width="1.55"/>
<text x="447.2" y="523.2" font-size="25.2" text-anchor="start" fill="#111" textLength="13.2" lengthAdjust="spacingAndGlyphs" >0</text>
<text x="487.4" y="523.2" font-size="25.2" text-anchor="start" fill="#111" textLength="39.6" lengthAdjust="spacingAndGlyphs" >100</text>
<text x="540.8" y="523.2" font-size="25.2" text-anchor="start" fill="#111" textLength="39.6" lengthAdjust="spacingAndGlyphs" >200</text>
<text x="594.3" y="523.2" font-size="25.2" text-anchor="start" fill="#111" textLength="39.6" lengthAdjust="spacingAndGlyphs" >300</text>
<text x="647.7" y="523.2" font-size="25.2" text-anchor="start" fill="#111" textLength="39.6" lengthAdjust="spacingAndGlyphs" >400</text>
<text x="701.1" y="523.2" font-size="25.2" text-anchor="start" fill="#111" textLength="39.6" lengthAdjust="spacingAndGlyphs" >500</text>
<text x="563.5" y="558.6" font-size="25.5" text-anchor="start" fill="#111" textLength="44.6" lengthAdjust="spacingAndGlyphs" >t / s</text>
<text x="404.2" y="24.6" font-size="31" text-anchor="start" fill="#000" textLength="42.0" lengthAdjust="spacingAndGlyphs" font-weight="bold" >(b)</text>
<clipPath id="clip568"><rect x="568.4" y="147.9" width="131.5" height="113.49999999999997"/></clipPath>
<rect x="568.4" y="147.9" width="131.5" height="113.5" fill="#dbdbdb"/>
<g clip-path="url(#clip568)">
<path d="M568.40 183.12L572.78 182.29L577.17 181.48L581.55 180.67L585.93 179.88L590.32 179.09L594.70 178.30L599.08 177.53L603.47 176.76L607.85 176.00L612.23 175.25L616.62 174.50L621.00 173.76L625.38 173.03L629.77 172.30L634.15 171.59L638.53 170.88L642.92 170.17L647.30 169.48L651.68 168.78L656.07 168.10L660.45 167.42L664.83 166.75L669.22 166.09L673.60 165.43L677.98 164.78L682.37 164.14L686.75 163.50L691.13 162.87L695.52 162.24L699.90 161.62" fill="none" stroke="#000" stroke-width="1.3" stroke-dasharray="9 5"/>
<path d="M568.40 183.12H612.23V175.25H656.07V168.10H699.90" fill="none" stroke="#000" stroke-width="1.3"/>
</g>
<path d="M612.23 261.40v-9.8M612.23 147.90v9.8M656.07 261.40v-9.8M656.07 147.90v9.8M590.32 261.40v-4.8M590.32 147.90v4.8M634.15 261.40v-4.8M634.15 147.90v4.8M677.98 261.40v-4.8M677.98 147.90v4.8M568.40 204.65h4.8M699.90 204.65h-4.8" stroke="#000" stroke-width="1.45" fill="none"/>
<rect x="568.40" y="147.90" width="131.50" height="113.50" fill="none" stroke="#000" stroke-width="1.55"/>
<text x="575.7" y="238.8" font-size="25" text-anchor="start" fill="#111" >(ii)</text>
<text x="568.4" y="286.9" font-size="19.5" text-anchor="middle" fill="#111" textLength="29.7" lengthAdjust="spacingAndGlyphs" >150</text>
<text x="612.2" y="286.9" font-size="19.5" text-anchor="middle" fill="#111" textLength="29.7" lengthAdjust="spacingAndGlyphs" >160</text>
<text x="656.1" y="286.9" font-size="19.5" text-anchor="middle" fill="#111" textLength="29.7" lengthAdjust="spacingAndGlyphs" >170</text>
<text x="699.9" y="286.9" font-size="19.5" text-anchor="middle" fill="#111" textLength="29.7" lengthAdjust="spacingAndGlyphs" >180</text>
<text x="615.3" y="305.5" font-size="19.5" text-anchor="start" fill="#111" textLength="33.0" lengthAdjust="spacingAndGlyphs" >t / s</text>
<clipPath id="clip526"><rect x="526.2" y="313.4" width="173.5" height="114.20000000000005"/></clipPath>
<rect x="526.2" y="313.4" width="173.5" height="114.2" fill="#dbdbdb"/>
<g clip-path="url(#clip526)">
<path d="M526.20 400.19L531.98 396.66L537.77 393.16L543.55 389.67L549.33 386.20L555.12 382.75L560.90 379.33L566.68 375.92L572.47 372.53L578.25 369.16L584.03 365.82L589.82 362.49L595.60 359.19L601.38 355.91L607.17 352.65L612.95 349.41L618.73 346.20L624.52 343.01L630.30 339.85L636.08 336.72L641.87 333.61L647.65 330.53L653.43 327.47L659.22 324.45L665.00 321.45L670.78 318.48L676.57 315.55L682.35 312.64L688.13 309.77L693.92 306.93L699.70 304.12" fill="none" stroke="#000" stroke-width="1.3" stroke-dasharray="9 5"/>
<path d="M526.20 400.19H584.03V366.49H641.87V335.92H699.70" fill="none" stroke="#000" stroke-width="1.3"/>
</g>
<path d="M584.03 427.60v-9.8M584.03 313.40v9.8M641.87 427.60v-9.8M641.87 313.40v9.8M555.12 427.60v-4.8M555.12 313.40v4.8M612.95 427.60v-4.8M612.95 313.40v4.8M670.78 427.60v-4.8M670.78 313.40v4.8M526.20 370.50h4.8M699.70 370.50h-4.8" stroke="#000" stroke-width="1.45" fill="none"/>
<rect x="526.20" y="313.40" width="173.50" height="114.20" fill="none" stroke="#000" stroke-width="1.55"/>
<text x="533.4" y="347.6" font-size="25" text-anchor="start" fill="#111" >(i)</text>
<text x="526.2" y="452.3" font-size="19.5" text-anchor="middle" fill="#111" textLength="9.9" lengthAdjust="spacingAndGlyphs" >0</text>
<text x="584.0" y="452.3" font-size="19.5" text-anchor="middle" fill="#111" textLength="19.8" lengthAdjust="spacingAndGlyphs" >10</text>
<text x="641.9" y="452.3" font-size="19.5" text-anchor="middle" fill="#111" textLength="19.8" lengthAdjust="spacingAndGlyphs" >20</text>
<text x="699.7" y="452.3" font-size="19.5" text-anchor="middle" fill="#111" textLength="19.8" lengthAdjust="spacingAndGlyphs" >30</text>
<text x="593.8" y="470.9" font-size="19.5" text-anchor="start" fill="#111" textLength="33.0" lengthAdjust="spacingAndGlyphs" >t / s</text>
<line x1="543.50" y1="199.80" x2="557.20" y2="199.80" stroke="#000" stroke-width="1.4" />
<path d="M567.2 199.8L557.2 205.8L557.2 193.8Z" fill="#000"/>
<line x1="467.30" y1="426.70" x2="517.13" y2="394.08" stroke="#000" stroke-width="1.4" />
<path d="M525.5 388.6L520.4 399.1L513.8 389.1Z" fill="#000"/>
</g>
<g id="panelC">
<clipPath id="clipC"><rect x="92.5" y="572.8" width="609.5" height="443.7"/></clipPath>
<g clip-path="url(#clipC)">
<rect x="92.5" y="572.8" width="609.5" height="443.7" fill="#c0be40"/>
<path d="M92.5 572.8H105.8L101.7 604.5L99.2 631.9L97.4 659.2L96.6 690L95.7 740L94.8 790L94 850L93.3 905H92.5Z" fill="#e3de2c"/>
<path d="M704.0 1022.5L92.5 1022.5L92.8 1021.5L93.3 1021.5L93.8 933.2L94.3 866.1L94.8 823.9L95.3 788.8L95.8 760.7L96.3 736.7L96.8 715.8L97.3 696.7L97.8 680.7L98.3 667.7L98.8 657.1L99.3 648.0L99.8 642.6L100.3 637.8L100.8 634.7L101.3 632.7L101.8 630.7L102.3 628.9L102.8 627.4L103.3 626.6L103.8 625.9L104.3 625.2L104.8 624.6L105.3 623.9L105.8 623.3L106.3 622.9L106.8 622.7L107.3 622.5L107.8 622.3L108.3 622.1L108.8 621.9L109.3 621.7L109.8 621.6L110.3 621.4L110.8 621.2L111.3 621.0L111.8 620.8L112.3 620.6L112.8 620.5L113.3 620.3L113.8 620.1L114.3 619.9L114.8 619.7L115.3 619.5L115.8 619.3L116.3 619.1L116.8 618.9L117.3 618.7L117.8 618.5L118.3 618.3L118.8 618.2L119.3 618.0L119.8 617.8L120.3 617.6L120.8 617.4L121.3 617.3L121.8 617.1L122.3 616.9L122.5 616.8L124.5 616.2L126.5 615.6L128.5 615.1L130.5 614.6L132.5 614.1L134.5 613.6L136.5 613.1L138.5 612.7L140.5 612.3L142.5 611.9L144.5 611.5L146.5 611.1L148.5 610.7L150.5 610.2L152.5 609.6L154.5 609.0L156.5 608.5L158.5 607.9L160.5 607.4L162.5 607.0L164.5 606.7L166.5 606.4L168.5 606.1L170.5 605.8L172.5 605.5L174.5 605.2L176.5 604.9L178.5 604.7L180.5 604.4L182.5 604.2L184.5 603.9L186.5 603.7L188.5 603.5L190.5 603.3L192.5 603.1L194.5 602.9L196.5 602.8L198.5 602.6L200.5 602.4L202.5 602.3L204.5 602.1L206.5 602.0L208.5 601.8L210.5 601.7L212.5 601.6L214.5 601.4L216.5 601.3L218.5 601.2L220.5 601.0L222.5 600.9L224.5 600.9L226.5 600.8L228.5 600.7L230.5 600.6L232.5 600.5L234.5 600.5L236.5 600.4L238.5 600.3L240.5 600.3L242.5 600.2L244.5 600.1L246.5 600.0L248.5 600.0L250.5 599.9L252.5 599.8L254.5 599.8L256.5 599.7L258.5 599.6L260.5 599.6L262.5 599.5L264.5 599.5L266.5 599.4L268.5 599.3L270.5 599.3L272.5 599.2L274.5 599.2L276.5 599.1L278.5 599.1L280.5 599.0L282.5 598.9L284.5 598.9L286.5 598.8L288.5 598.8L290.5 598.7L292.5 598.7L294.5 598.7L296.5 598.6L298.5 598.6L300.5 598.6L302.5 598.5L304.5 598.5L306.5 598.4L308.5 598.4L310.5 598.4L312.5 598.3L314.5 598.3L316.5 598.3L318.5 598.2L320.5 598.2L322.5 598.2L324.5 598.1L326.5 598.1L328.5 598.1L330.5 598.0L332.5 598.0L334.5 598.0L336.5 597.9L338.5 597.9L340.5 597.9L342.5 597.8L344.5 597.8L346.5 597.7L348.5 597.7L350.5 597.7L352.5 597.6L354.5 597.6L356.5 597.6L358.5 597.5L360.5 597.5L362.5 597.5L364.5 597.4L366.5 597.4L368.5 597.4L370.5 597.3L372.5 597.3L374.5 597.3L376.5 597.2L378.5 597.2L380.5 597.2L382.5 597.1L384.5 597.1L386.5 597.1L388.5 597.1L390.5 597.0L392.5 597.0L394.5 597.0L396.5 596.9L398.5 596.9L400.5 596.9L402.5 596.9L404.5 596.8L406.5 596.8L408.5 596.8L410.5 596.8L412.5 596.7L414.5 596.7L416.5 596.7L418.5 596.7L420.5 596.7L422.5 596.6L424.5 596.6L426.5 596.6L428.5 596.6L430.5 596.5L432.5 596.5L434.5 596.5L436.5 596.5L438.5 596.5L440.5 596.4L442.5 596.4L444.5 596.4L446.5 596.4L448.5 596.4L450.5 596.3L452.5 596.3L454.5 596.3L456.5 596.3L458.5 596.3L460.5 596.2L462.5 596.2L464.5 596.2L466.5 596.2L468.5 596.2L470.5 596.2L472.5 596.1L474.5 596.1L476.5 596.1L478.5 596.1L480.5 596.1L482.5 596.1L484.5 596.0L486.5 596.0L488.5 596.0L490.5 596.0L492.5 596.0L494.5 596.0L496.5 596.0L498.5 595.9L500.5 595.9L502.5 595.9L504.5 595.9L506.5 595.9L508.5 595.9L510.5 595.9L512.5 595.8L514.5 595.8L516.5 595.8L518.5 595.8L520.5 595.8L522.5 595.8L524.5 595.8L526.5 595.8L528.5 595.7L530.5 595.7L532.5 595.7L534.5 595.7L536.5 595.7L538.5 595.7L540.5 595.7L542.5 595.7L544.5 595.6L546.5 595.6L548.5 595.6L550.5 595.6L552.5 595.6L554.5 595.6L556.5 595.6L558.5 595.6L560.5 595.6L562.5 595.6L564.5 595.5L566.5 595.5L568.5 595.5L570.5 595.5L572.5 595.5L574.5 595.5L576.5 595.5L578.5 595.5L580.5 595.5L582.5 595.5L584.5 595.5L586.5 595.4L588.5 595.4L590.5 595.4L592.5 595.4L594.5 595.4L596.5 595.4L598.5 595.4L600.5 595.4L602.5 595.4L604.5 595.4L606.5 595.4L608.5 595.4L610.5 595.4L612.5 595.4L614.5 595.3L616.5 595.3L618.5 595.3L620.5 595.3L622.5 595.3L624.5 595.3L626.5 595.3L628.5 595.3L630.5 595.3L632.5 595.3L634.5 595.3L636.5 595.3L638.5 595.2L640.5 595.2L642.5 595.2L644.5 595.2L646.5 595.2L648.5 595.2L650.5 595.2L652.5 595.2L654.5 595.2L656.5 595.2L658.5 595.2L660.5 595.2L662.5 595.2L664.5 595.1L666.5 595.1L668.5 595.1L670.5 595.1L672.5 595.1L674.5 595.1L676.5 595.1L678.5 595.1L680.5 595.1L682.5 595.1L684.5 595.1L686.5 595.1L688.5 595.1L690.5 595.0L692.5 595.0L694.5 595.0L696.5 595.0L698.5 595.0L700.5 595.0L702.5 595.0L704.5 595.0L702.0 595.0L704.0 595.0Z" fill="#adad51"/>
<path d="M704.0 1022.5L92.5 1022.5L92.8 1021.5L93.3 1004.9L93.8 907.1L94.3 855.2L94.8 838.3L95.3 822.9L95.8 813.7L96.3 808.0L96.8 802.5L97.3 797.2L97.8 793.2L98.3 789.9L98.8 786.6L99.3 783.5L99.8 780.5L100.3 777.5L100.8 774.1L101.3 769.0L101.8 764.1L102.3 759.0L102.8 754.0L103.3 749.2L103.8 746.3L104.3 743.5L104.8 740.8L105.3 738.2L105.8 737.6L106.3 736.9L106.8 736.3L107.3 735.6L107.8 735.0L108.3 734.4L108.8 733.8L109.3 733.2L109.8 732.9L110.3 732.5L110.8 732.2L111.3 731.8L111.8 731.5L112.3 731.1L112.8 730.8L113.3 730.5L113.8 730.1L114.3 729.8L114.8 729.5L115.3 729.2L115.8 728.8L116.3 728.5L116.8 728.2L117.3 727.9L117.8 727.6L118.3 727.3L118.8 726.9L119.3 726.6L119.8 726.3L120.3 726.0L120.8 725.7L121.3 725.4L121.8 725.0L122.3 724.7L122.5 724.6L124.5 723.4L126.5 722.1L128.5 721.0L130.5 719.8L132.5 717.4L134.5 714.9L136.5 712.6L138.5 710.3L140.5 708.3L142.5 706.3L144.5 704.6L146.5 703.3L148.5 702.1L150.5 701.0L152.5 699.9L154.5 698.8L156.5 698.0L158.5 697.1L160.5 696.4L162.5 695.6L164.5 694.9L166.5 694.2L168.5 693.6L170.5 693.1L172.5 692.6L174.5 692.1L176.5 691.7L178.5 691.2L180.5 690.8L182.5 690.3L184.5 689.9L186.5 689.5L188.5 689.1L190.5 688.8L192.5 688.4L194.5 688.0L196.5 687.7L198.5 687.4L200.5 687.2L202.5 686.9L204.5 686.6L206.5 686.4L208.5 686.1L210.5 685.9L212.5 685.6L214.5 685.4L216.5 685.1L218.5 684.9L220.5 684.7L222.5 684.5L224.5 684.3L226.5 684.1L228.5 683.9L230.5 683.8L232.5 683.6L234.5 683.4L236.5 683.3L238.5 683.1L240.5 683.0L242.5 682.8L244.5 682.7L246.5 682.5L248.5 682.4L250.5 682.3L252.5 682.1L254.5 682.0L256.5 681.9L258.5 681.8L260.5 681.7L262.5 681.6L264.5 681.5L266.5 681.4L268.5 681.3L270.5 681.2L272.5 681.1L274.5 681.0L276.5 680.9L278.5 680.8L280.5 680.7L282.5 680.6L284.5 680.6L286.5 680.5L288.5 680.4L290.5 680.3L292.5 680.3L294.5 680.2L296.5 680.2L298.5 680.1L300.5 680.0L302.5 680.0L304.5 679.9L306.5 679.9L308.5 679.8L310.5 679.8L312.5 679.7L314.5 679.7L316.5 679.6L318.5 679.6L320.5 679.5L322.5 679.5L324.5 679.4L326.5 679.4L328.5 679.3L330.5 679.3L332.5 679.2L334.5 679.2L336.5 679.1L338.5 679.1L340.5 679.0L342.5 679.0L344.5 678.9L346.5 678.9L348.5 678.8L350.5 678.8L352.5 678.7L354.5 678.7L356.5 678.6L358.5 678.6L360.5 678.5L362.5 678.5L364.5 678.4L366.5 678.4L368.5 678.3L370.5 678.3L372.5 678.2L374.5 678.2L376.5 678.2L378.5 678.1L380.5 678.1L382.5 678.0L384.5 678.0L386.5 678.0L388.5 677.9L390.5 677.9L392.5 677.8L394.5 677.8L396.5 677.8L398.5 677.7L400.5 677.7L402.5 677.7L404.5 677.6L406.5 677.6L408.5 677.6L410.5 677.5L412.5 677.5L414.5 677.5L416.5 677.4L418.5 677.4L420.5 677.4L422.5 677.4L424.5 677.3L426.5 677.3L428.5 677.3L430.5 677.2L432.5 677.2L434.5 677.2L436.5 677.2L438.5 677.1L440.5 677.1L442.5 677.1L444.5 677.1L446.5 677.0L448.5 677.0L450.5 677.0L452.5 677.0L454.5 676.9L456.5 676.9L458.5 676.9L460.5 676.9L462.5 676.8L464.5 676.8L466.5 676.8L468.5 676.8L470.5 676.7L472.5 676.7L474.5 676.7L476.5 676.7L478.5 676.6L480.5 676.6L482.5 676.6L484.5 676.6L486.5 676.6L488.5 676.5L490.5 676.5L492.5 676.5L494.5 676.5L496.5 676.5L498.5 676.4L500.5 676.4L502.5 676.4L504.5 676.4L506.5 676.4L508.5 676.3L510.5 676.3L512.5 676.3L514.5 676.3L516.5 676.3L518.5 676.3L520.5 676.2L522.5 676.2L524.5 676.2L526.5 676.2L528.5 676.2L530.5 676.2L532.5 676.1L534.5 676.1L536.5 676.1L538.5 676.1L540.5 676.1L542.5 676.1L544.5 676.0L546.5 676.0L548.5 676.0L550.5 676.0L552.5 676.0L554.5 676.0L556.5 675.9L558.5 675.9L560.5 675.9L562.5 675.9L564.5 675.9L566.5 675.9L568.5 675.9L570.5 675.9L572.5 675.8L574.5 675.8L576.5 675.8L578.5 675.8L580.5 675.8L582.5 675.8L584.5 675.8L586.5 675.8L588.5 675.8L590.5 675.7L592.5 675.7L594.5 675.7L596.5 675.7L598.5 675.7L600.5 675.7L602.5 675.7L604.5 675.7L606.5 675.7L608.5 675.7L610.5 675.6L612.5 675.6L614.5 675.6L616.5 675.6L618.5 675.6L620.5 675.6L622.5 675.6L624.5 675.6L626.5 675.6L628.5 675.6L630.5 675.6L632.5 675.5L634.5 675.5L636.5 675.5L638.5 675.5L640.5 675.5L642.5 675.5L644.5 675.5L646.5 675.5L648.5 675.5L650.5 675.5L652.5 675.4L654.5 675.4L656.5 675.4L658.5 675.4L660.5 675.4L662.5 675.4L664.5 675.4L666.5 675.4L668.5 675.4L670.5 675.4L672.5 675.3L674.5 675.3L676.5 675.3L678.5 675.3L680.5 675.3L682.5 675.3L684.5 675.3L686.5 675.3L688.5 675.3L690.5 675.3L692.5 675.2L694.5 675.2L696.5 675.2L698.5 675.2L700.5 675.2L702.5 675.2L704.5 675.2L702.0 675.2L704.0 675.2Z" fill="#959569"/>
<path d="M704.0 1022.5L92.5 1022.5L92.8 1021.5L93.3 1021.5L93.8 1021.5L94.3 1014.1L94.8 971.9L95.3 936.8L95.8 908.7L96.3 884.7L96.8 863.8L97.3 844.7L97.8 828.7L98.3 815.7L98.8 805.1L99.3 796.0L99.8 790.6L100.3 785.8L100.8 782.7L101.3 780.7L101.8 778.7L102.3 776.9L102.8 775.4L103.3 774.6L103.8 773.9L104.3 773.2L104.8 772.6L105.3 771.9L105.8 771.3L106.3 770.9L106.8 770.7L107.3 770.5L107.8 770.3L108.3 770.1L108.8 769.9L109.3 769.7L109.8 769.6L110.3 769.4L110.8 769.2L111.3 769.0L111.8 768.8L112.3 768.6L112.8 768.5L113.3 768.3L113.8 768.1L114.3 767.9L114.8 767.7L115.3 767.5L115.8 767.3L116.3 767.1L116.8 766.9L117.3 766.7L117.8 766.5L118.3 766.3L118.8 766.2L119.3 766.0L119.8 765.8L120.3 765.6L120.8 765.4L121.3 765.3L121.8 765.1L122.3 764.9L122.5 764.8L124.5 764.2L126.5 763.6L128.5 763.1L130.5 762.6L132.5 762.1L134.5 761.6L136.5 761.1L138.5 760.7L140.5 760.3L142.5 759.9L144.5 759.5L146.5 759.1L148.5 758.7L150.5 758.2L152.5 757.6L154.5 757.0L156.5 756.5L158.5 755.9L160.5 755.4L162.5 755.0L164.5 754.7L166.5 754.4L168.5 754.1L170.5 753.8L172.5 753.5L174.5 753.2L176.5 752.9L178.5 752.7L180.5 752.4L182.5 752.2L184.5 751.9L186.5 751.7L188.5 751.5L190.5 751.3L192.5 751.1L194.5 750.9L196.5 750.8L198.5 750.6L200.5 750.4L202.5 750.3L204.5 750.1L206.5 750.0L208.5 749.8L210.5 749.7L212.5 749.6L214.5 749.4L216.5 749.3L218.5 749.2L220.5 749.0L222.5 748.9L224.5 748.9L226.5 748.8L228.5 748.7L230.5 748.6L232.5 748.5L234.5 748.5L236.5 748.4L238.5 748.3L240.5 748.3L242.5 748.2L244.5 748.1L246.5 748.0L248.5 748.0L250.5 747.9L252.5 747.8L254.5 747.8L256.5 747.7L258.5 747.6L260.5 747.6L262.5 747.5L264.5 747.5L266.5 747.4L268.5 747.3L270.5 747.3L272.5 747.2L274.5 747.2L276.5 747.1L278.5 747.1L280.5 747.0L282.5 746.9L284.5 746.9L286.5 746.8L288.5 746.8L290.5 746.7L292.5 746.7L294.5 746.7L296.5 746.6L298.5 746.6L300.5 746.6L302.5 746.5L304.5 746.5L306.5 746.4L308.5 746.4L310.5 746.4L312.5 746.3L314.5 746.3L316.5 746.3L318.5 746.2L320.5 746.2L322.5 746.2L324.5 746.1L326.5 746.1L328.5 746.1L330.5 746.0L332.5 746.0L334.5 746.0L336.5 745.9L338.5 745.9L340.5 745.9L342.5 745.8L344.5 745.8L346.5 745.7L348.5 745.7L350.5 745.7L352.5 745.6L354.5 745.6L356.5 745.6L358.5 745.5L360.5 745.5L362.5 745.5L364.5 745.4L366.5 745.4L368.5 745.4L370.5 745.3L372.5 745.3L374.5 745.3L376.5 745.2L378.5 745.2L380.5 745.2L382.5 745.1L384.5 745.1L386.5 745.1L388.5 745.1L390.5 745.0L392.5 745.0L394.5 745.0L396.5 744.9L398.5 744.9L400.5 744.9L402.5 744.9L404.5 744.8L406.5 744.8L408.5 744.8L410.5 744.8L412.5 744.7L414.5 744.7L416.5 744.7L418.5 744.7L420.5 744.7L422.5 744.6L424.5 744.6L426.5 744.6L428.5 744.6L430.5 744.5L432.5 744.5L434.5 744.5L436.5 744.5L438.5 744.5L440.5 744.4L442.5 744.4L444.5 744.4L446.5 744.4L448.5 744.4L450.5 744.3L452.5 744.3L454.5 744.3L456.5 744.3L458.5 744.3L460.5 744.2L462.5 744.2L464.5 744.2L466.5 744.2L468.5 744.2L470.5 744.2L472.5 744.1L474.5 744.1L476.5 744.1L478.5 744.1L480.5 744.1L482.5 744.1L484.5 744.0L486.5 744.0L488.5 744.0L490.5 744.0L492.5 744.0L494.5 744.0L496.5 744.0L498.5 743.9L500.5 743.9L502.5 743.9L504.5 743.9L506.5 743.9L508.5 743.9L510.5 743.9L512.5 743.8L514.5 743.8L516.5 743.8L518.5 743.8L520.5 743.8L522.5 743.8L524.5 743.8L526.5 743.8L528.5 743.7L530.5 743.7L532.5 743.7L534.5 743.7L536.5 743.7L538.5 743.7L540.5 743.7L542.5 743.7L544.5 743.6L546.5 743.6L548.5 743.6L550.5 743.6L552.5 743.6L554.5 743.6L556.5 743.6L558.5 743.6L560.5 743.6L562.5 743.6L564.5 743.5L566.5 743.5L568.5 743.5L570.5 743.5L572.5 743.5L574.5 743.5L576.5 743.5L578.5 743.5L580.5 743.5L582.5 743.5L584.5 743.5L586.5 743.4L588.5 743.4L590.5 743.4L592.5 743.4L594.5 743.4L596.5 743.4L598.5 743.4L600.5 743.4L602.5 743.4L604.5 743.4L606.5 743.4L608.5 743.4L610.5 743.4L612.5 743.4L614.5 743.3L616.5 743.3L618.5 743.3L620.5 743.3L622.5 743.3L624.5 743.3L626.5 743.3L628.5 743.3L630.5 743.3L632.5 743.3L634.5 743.3L636.5 743.3L638.5 743.2L640.5 743.2L642.5 743.2L644.5 743.2L646.5 743.2L648.5 743.2L650.5 743.2L652.5 743.2L654.5 743.2L656.5 743.2L658.5 743.2L660.5 743.2L662.5 743.2L664.5 743.1L666.5 743.1L668.5 743.1L670.5 743.1L672.5 743.1L674.5 743.1L676.5 743.1L678.5 743.1L680.5 743.1L682.5 743.1L684.5 743.1L686.5 743.1L688.5 743.1L690.5 743.0L692.5 743.0L694.5 743.0L696.5 743.0L698.5 743.0L700.5 743.0L702.5 743.0L704.5 743.0L702.0 743.0L704.0 743.0Z" fill="#858585"/>
<path d="M704.0 1022.5L92.5 1022.5L92.8 1021.5L93.3 1021.5L93.8 1021.5L94.3 1002.8L94.8 985.9L95.3 970.5L95.8 961.3L96.3 955.6L96.8 950.1L97.3 944.8L97.8 940.8L98.3 937.5L98.8 934.2L99.3 931.1L99.8 928.1L100.3 925.1L100.8 921.7L101.3 916.6L101.8 911.7L102.3 906.6L102.8 901.6L103.3 896.8L103.8 893.9L104.3 891.1L104.8 888.4L105.3 885.8L105.8 885.2L106.3 884.5L106.8 883.9L107.3 883.2L107.8 882.6L108.3 882.0L108.8 881.4L109.3 880.8L109.8 880.5L110.3 880.1L110.8 879.8L111.3 879.4L111.8 879.1L112.3 878.7L112.8 878.4L113.3 878.1L113.8 877.7L114.3 877.4L114.8 877.1L115.3 876.8L115.8 876.4L116.3 876.1L116.8 875.8L117.3 875.5L117.8 875.2L118.3 874.9L118.8 874.5L119.3 874.2L119.8 873.9L120.3 873.6L120.8 873.3L121.3 873.0L121.8 872.6L122.3 872.3L122.5 872.2L124.5 871.0L126.5 869.7L128.5 868.6L130.5 867.4L132.5 865.0L134.5 862.5L136.5 860.2L138.5 857.9L140.5 855.9L142.5 853.9L144.5 852.2L146.5 850.9L148.5 849.7L150.5 848.6L152.5 847.5L154.5 846.4L156.5 845.6L158.5 844.7L160.5 844.0L162.5 843.2L164.5 842.5L166.5 841.8L168.5 841.2L170.5 840.7L172.5 840.2L174.5 839.7L176.5 839.3L178.5 838.8L180.5 838.4L182.5 837.9L184.5 837.5L186.5 837.1L188.5 836.7L190.5 836.4L192.5 836.0L194.5 835.6L196.5 835.3L198.5 835.0L200.5 834.8L202.5 834.5L204.5 834.2L206.5 834.0L208.5 833.7L210.5 833.5L212.5 833.2L214.5 833.0L216.5 832.7L218.5 832.5L220.5 832.3L222.5 832.1L224.5 831.9L226.5 831.7L228.5 831.5L230.5 831.4L232.5 831.2L234.5 831.0L236.5 830.9L238.5 830.7L240.5 830.6L242.5 830.4L244.5 830.3L246.5 830.1L248.5 830.0L250.5 829.9L252.5 829.7L254.5 829.6L256.5 829.5L258.5 829.4L260.5 829.3L262.5 829.2L264.5 829.1L266.5 829.0L268.5 828.9L270.5 828.8L272.5 828.7L274.5 828.6L276.5 828.5L278.5 828.4L280.5 828.3L282.5 828.2L284.5 828.2L286.5 828.1L288.5 828.0L290.5 827.9L292.5 827.9L294.5 827.8L296.5 827.8L298.5 827.7L300.5 827.6L302.5 827.6L304.5 827.5L306.5 827.5L308.5 827.4L310.5 827.4L312.5 827.3L314.5 827.3L316.5 827.2L318.5 827.2L320.5 827.1L322.5 827.1L324.5 827.0L326.5 827.0L328.5 826.9L330.5 826.9L332.5 826.8L334.5 826.8L336.5 826.7L338.5 826.7L340.5 826.6L342.5 826.6L344.5 826.5L346.5 826.5L348.5 826.4L350.5 826.4L352.5 826.3L354.5 826.3L356.5 826.2L358.5 826.2L360.5 826.1L362.5 826.1L364.5 826.0L366.5 826.0L368.5 825.9L370.5 825.9L372.5 825.8L374.5 825.8L376.5 825.8L378.5 825.7L380.5 825.7L382.5 825.6L384.5 825.6L386.5 825.6L388.5 825.5L390.5 825.5L392.5 825.4L394.5 825.4L396.5 825.4L398.5 825.3L400.5 825.3L402.5 825.3L404.5 825.2L406.5 825.2L408.5 825.2L410.5 825.1L412.5 825.1L414.5 825.1L416.5 825.0L418.5 825.0L420.5 825.0L422.5 825.0L424.5 824.9L426.5 824.9L428.5 824.9L430.5 824.8L432.5 824.8L434.5 824.8L436.5 824.8L438.5 824.7L440.5 824.7L442.5 824.7L444.5 824.7L446.5 824.6L448.5 824.6L450.5 824.6L452.5 824.6L454.5 824.5L456.5 824.5L458.5 824.5L460.5 824.5L462.5 824.4L464.5 824.4L466.5 824.4L468.5 824.4L470.5 824.3L472.5 824.3L474.5 824.3L476.5 824.3L478.5 824.2L480.5 824.2L482.5 824.2L484.5 824.2L486.5 824.2L488.5 824.1L490.5 824.1L492.5 824.1L494.5 824.1L496.5 824.1L498.5 824.0L500.5 824.0L502.5 824.0L504.5 824.0L506.5 824.0L508.5 823.9L510.5 823.9L512.5 823.9L514.5 823.9L516.5 823.9L518.5 823.9L520.5 823.8L522.5 823.8L524.5 823.8L526.5 823.8L528.5 823.8L530.5 823.8L532.5 823.7L534.5 823.7L536.5 823.7L538.5 823.7L540.5 823.7L542.5 823.7L544.5 823.6L546.5 823.6L548.5 823.6L550.5 823.6L552.5 823.6L554.5 823.6L556.5 823.5L558.5 823.5L560.5 823.5L562.5 823.5L564.5 823.5L566.5 823.5L568.5 823.5L570.5 823.5L572.5 823.4L574.5 823.4L576.5 823.4L578.5 823.4L580.5 823.4L582.5 823.4L584.5 823.4L586.5 823.4L588.5 823.4L590.5 823.3L592.5 823.3L594.5 823.3L596.5 823.3L598.5 823.3L600.5 823.3L602.5 823.3L604.5 823.3L606.5 823.3L608.5 823.3L610.5 823.2L612.5 823.2L614.5 823.2L616.5 823.2L618.5 823.2L620.5 823.2L622.5 823.2L624.5 823.2L626.5 823.2L628.5 823.2L630.5 823.2L632.5 823.1L634.5 823.1L636.5 823.1L638.5 823.1L640.5 823.1L642.5 823.1L644.5 823.1L646.5 823.1L648.5 823.1L650.5 823.1L652.5 823.0L654.5 823.0L656.5 823.0L658.5 823.0L660.5 823.0L662.5 823.0L664.5 823.0L666.5 823.0L668.5 823.0L670.5 823.0L672.5 822.9L674.5 822.9L676.5 822.9L678.5 822.9L680.5 822.9L682.5 822.9L684.5 822.9L686.5 822.9L688.5 822.9L690.5 822.9L692.5 822.8L694.5 822.8L696.5 822.8L698.5 822.8L700.5 822.8L702.5 822.8L704.5 822.8L702.0 822.8L704.0 822.8Z" fill="#6c6c96"/>
<path d="M704.0 1022.5L92.5 1022.5L92.8 1021.5L93.3 1021.5L93.8 1021.5L94.3 1021.5L94.8 1021.5L95.3 1021.5L95.8 1021.5L96.3 1021.5L96.8 1011.5L97.3 992.4L97.8 976.4L98.3 963.4L98.8 952.8L99.3 943.7L99.8 938.3L100.3 933.5L100.8 930.4L101.3 928.4L101.8 926.4L102.3 924.6L102.8 923.1L103.3 922.3L103.8 921.6L104.3 920.9L104.8 920.3L105.3 919.6L105.8 919.0L106.3 918.6L106.8 918.4L107.3 918.2L107.8 918.0L108.3 917.8L108.8 917.6L109.3 917.4L109.8 917.3L110.3 917.1L110.8 916.9L111.3 916.7L111.8 916.5L112.3 916.3L112.8 916.2L113.3 916.0L113.8 915.8L114.3 915.6L114.8 915.4L115.3 915.2L115.8 915.0L116.3 914.8L116.8 914.6L117.3 914.4L117.8 914.2L118.3 914.0L118.8 913.9L119.3 913.7L119.8 913.5L120.3 913.3L120.8 913.1L121.3 913.0L121.8 912.8L122.3 912.6L122.5 912.5L124.5 911.9L126.5 911.3L128.5 910.8L130.5 910.3L132.5 909.8L134.5 909.3L136.5 908.8L138.5 908.4L140.5 908.0L142.5 907.6L144.5 907.2L146.5 906.8L148.5 906.4L150.5 905.9L152.5 905.3L154.5 904.7L156.5 904.2L158.5 903.6L160.5 903.1L162.5 902.7L164.5 902.4L166.5 902.1L168.5 901.8L170.5 901.5L172.5 901.2L174.5 900.9L176.5 900.6L178.5 900.4L180.5 900.1L182.5 899.9L184.5 899.6L186.5 899.4L188.5 899.2L190.5 899.0L192.5 898.8L194.5 898.6L196.5 898.5L198.5 898.3L200.5 898.1L202.5 898.0L204.5 897.8L206.5 897.7L208.5 897.5L210.5 897.4L212.5 897.3L214.5 897.1L216.5 897.0L218.5 896.9L220.5 896.7L222.5 896.6L224.5 896.6L226.5 896.5L228.5 896.4L230.5 896.3L232.5 896.2L234.5 896.2L236.5 896.1L238.5 896.0L240.5 896.0L242.5 895.9L244.5 895.8L246.5 895.7L248.5 895.7L250.5 895.6L252.5 895.5L254.5 895.5L256.5 895.4L258.5 895.3L260.5 895.3L262.5 895.2L264.5 895.2L266.5 895.1L268.5 895.0L270.5 895.0L272.5 894.9L274.5 894.9L276.5 894.8L278.5 894.8L280.5 894.7L282.5 894.6L284.5 894.6L286.5 894.5L288.5 894.5L290.5 894.4L292.5 894.4L294.5 894.4L296.5 894.3L298.5 894.3L300.5 894.3L302.5 894.2L304.5 894.2L306.5 894.1L308.5 894.1L310.5 894.1L312.5 894.0L314.5 894.0L316.5 894.0L318.5 893.9L320.5 893.9L322.5 893.9L324.5 893.8L326.5 893.8L328.5 893.8L330.5 893.7L332.5 893.7L334.5 893.7L336.5 893.6L338.5 893.6L340.5 893.6L342.5 893.5L344.5 893.5L346.5 893.4L348.5 893.4L350.5 893.4L352.5 893.3L354.5 893.3L356.5 893.3L358.5 893.2L360.5 893.2L362.5 893.2L364.5 893.1L366.5 893.1L368.5 893.1L370.5 893.0L372.5 893.0L374.5 893.0L376.5 892.9L378.5 892.9L380.5 892.9L382.5 892.8L384.5 892.8L386.5 892.8L388.5 892.8L390.5 892.7L392.5 892.7L394.5 892.7L396.5 892.6L398.5 892.6L400.5 892.6L402.5 892.6L404.5 892.5L406.5 892.5L408.5 892.5L410.5 892.5L412.5 892.4L414.5 892.4L416.5 892.4L418.5 892.4L420.5 892.4L422.5 892.3L424.5 892.3L426.5 892.3L428.5 892.3L430.5 892.2L432.5 892.2L434.5 892.2L436.5 892.2L438.5 892.2L440.5 892.1L442.5 892.1L444.5 892.1L446.5 892.1L448.5 892.1L450.5 892.0L452.5 892.0L454.5 892.0L456.5 892.0L458.5 892.0L460.5 891.9L462.5 891.9L464.5 891.9L466.5 891.9L468.5 891.9L470.5 891.9L472.5 891.8L474.5 891.8L476.5 891.8L478.5 891.8L480.5 891.8L482.5 891.8L484.5 891.7L486.5 891.7L488.5 891.7L490.5 891.7L492.5 891.7L494.5 891.7L496.5 891.7L498.5 891.6L500.5 891.6L502.5 891.6L504.5 891.6L506.5 891.6L508.5 891.6L510.5 891.6L512.5 891.5L514.5 891.5L516.5 891.5L518.5 891.5L520.5 891.5L522.5 891.5L524.5 891.5L526.5 891.5L528.5 891.4L530.5 891.4L532.5 891.4L534.5 891.4L536.5 891.4L538.5 891.4L540.5 891.4L542.5 891.4L544.5 891.3L546.5 891.3L548.5 891.3L550.5 891.3L552.5 891.3L554.5 891.3L556.5 891.3L558.5 891.3L560.5 891.3L562.5 891.3L564.5 891.2L566.5 891.2L568.5 891.2L570.5 891.2L572.5 891.2L574.5 891.2L576.5 891.2L578.5 891.2L580.5 891.2L582.5 891.2L584.5 891.2L586.5 891.1L588.5 891.1L590.5 891.1L592.5 891.1L594.5 891.1L596.5 891.1L598.5 891.1L600.5 891.1L602.5 891.1L604.5 891.1L606.5 891.1L608.5 891.1L610.5 891.1L612.5 891.1L614.5 891.0L616.5 891.0L618.5 891.0L620.5 891.0L622.5 891.0L624.5 891.0L626.5 891.0L628.5 891.0L630.5 891.0L632.5 891.0L634.5 891.0L636.5 891.0L638.5 890.9L640.5 890.9L642.5 890.9L644.5 890.9L646.5 890.9L648.5 890.9L650.5 890.9L652.5 890.9L654.5 890.9L656.5 890.9L658.5 890.9L660.5 890.9L662.5 890.9L664.5 890.8L666.5 890.8L668.5 890.8L670.5 890.8L672.5 890.8L674.5 890.8L676.5 890.8L678.5 890.8L680.5 890.8L682.5 890.8L684.5 890.8L686.5 890.8L688.5 890.8L690.5 890.7L692.5 890.7L694.5 890.7L696.5 890.7L698.5 890.7L700.5 890.7L702.5 890.7L704.5 890.7L702.0 890.7L704.0 890.7Z" fill="#5353ab"/>
<path d="M704.0 1022.5L92.5 1022.5L92.8 1021.5L93.3 1021.5L93.8 1021.5L94.3 1021.5L94.8 1021.5L95.3 1021.5L95.8 1021.5L96.3 1021.5L96.8 1021.5L97.3 1021.5L97.8 1021.5L98.3 1021.5L98.8 1021.5L99.3 1021.5L99.8 1021.5L100.3 1021.5L100.8 1021.5L101.3 1021.5L101.8 1021.5L102.3 1021.5L102.8 1021.5L103.3 1021.5L103.8 1021.5L104.3 1021.5L104.8 1021.5L105.3 1021.5L105.8 1021.5L106.3 1021.5L106.8 1021.5L107.3 1021.5L107.8 1021.5L108.3 1021.5L108.8 1021.5L109.3 1021.5L109.8 1021.5L110.3 1021.5L110.8 1021.5L111.3 1021.5L111.8 1021.5L112.3 1021.5L112.8 1021.5L113.3 1021.5L113.8 1021.5L114.3 1021.5L114.8 1021.5L115.3 1021.5L115.8 1021.5L116.3 1021.5L116.8 1021.5L117.3 1021.5L117.8 1021.5L118.3 1021.5L118.8 1021.5L119.3 1021.5L119.8 1021.5L120.3 1021.5L120.8 1021.3L121.3 1021.0L121.8 1020.6L122.3 1020.3L122.5 1020.2L124.5 1019.0L126.5 1017.7L128.5 1016.6L130.5 1015.4L132.5 1013.0L134.5 1010.5L136.5 1008.2L138.5 1005.9L140.5 1003.9L142.5 1001.9L144.5 1000.2L146.5 998.9L148.5 997.7L150.5 996.6L152.5 995.5L154.5 994.4L156.5 993.6L158.5 992.7L160.5 992.0L162.5 991.2L164.5 990.5L166.5 989.8L168.5 989.2L170.5 988.7L172.5 988.2L174.5 987.7L176.5 987.3L178.5 986.8L180.5 986.4L182.5 985.9L184.5 985.5L186.5 985.1L188.5 984.7L190.5 984.4L192.5 984.0L194.5 983.6L196.5 983.3L198.5 983.0L200.5 982.8L202.5 982.5L204.5 982.2L206.5 982.0L208.5 981.7L210.5 981.5L212.5 981.2L214.5 981.0L216.5 980.7L218.5 980.5L220.5 980.3L222.5 980.1L224.5 979.9L226.5 979.7L228.5 979.5L230.5 979.4L232.5 979.2L234.5 979.0L236.5 978.9L238.5 978.7L240.5 978.6L242.5 978.4L244.5 978.3L246.5 978.1L248.5 978.0L250.5 977.9L252.5 977.7L254.5 977.6L256.5 977.5L258.5 977.4L260.5 977.3L262.5 977.2L264.5 977.1L266.5 977.0L268.5 976.9L270.5 976.8L272.5 976.7L274.5 976.6L276.5 976.5L278.5 976.4L280.5 976.3L282.5 976.2L284.5 976.2L286.5 976.1L288.5 976.0L290.5 975.9L292.5 975.9L294.5 975.8L296.5 975.8L298.5 975.7L300.5 975.6L302.5 975.6L304.5 975.5L306.5 975.5L308.5 975.4L310.5 975.4L312.5 975.3L314.5 975.3L316.5 975.2L318.5 975.2L320.5 975.1L322.5 975.1L324.5 975.0L326.5 975.0L328.5 974.9L330.5 974.9L332.5 974.8L334.5 974.8L336.5 974.7L338.5 974.7L340.5 974.6L342.5 974.6L344.5 974.5L346.5 974.5L348.5 974.4L350.5 974.4L352.5 974.3L354.5 974.3L356.5 974.2L358.5 974.2L360.5 974.1L362.5 974.1L364.5 974.0L366.5 974.0L368.5 973.9L370.5 973.9L372.5 973.8L374.5 973.8L376.5 973.8L378.5 973.7L380.5 973.7L382.5 973.6L384.5 973.6L386.5 973.6L388.5 973.5L390.5 973.5L392.5 973.4L394.5 973.4L396.5 973.4L398.5 973.3L400.5 973.3L402.5 973.3L404.5 973.2L406.5 973.2L408.5 973.2L410.5 973.1L412.5 973.1L414.5 973.1L416.5 973.0L418.5 973.0L420.5 973.0L422.5 973.0L424.5 972.9L426.5 972.9L428.5 972.9L430.5 972.8L432.5 972.8L434.5 972.8L436.5 972.8L438.5 972.7L440.5 972.7L442.5 972.7L444.5 972.7L446.5 972.6L448.5 972.6L450.5 972.6L452.5 972.6L454.5 972.5L456.5 972.5L458.5 972.5L460.5 972.5L462.5 972.4L464.5 972.4L466.5 972.4L468.5 972.4L470.5 972.3L472.5 972.3L474.5 972.3L476.5 972.3L478.5 972.2L480.5 972.2L482.5 972.2L484.5 972.2L486.5 972.2L488.5 972.1L490.5 972.1L492.5 972.1L494.5 972.1L496.5 972.1L498.5 972.0L500.5 972.0L502.5 972.0L504.5 972.0L506.5 972.0L508.5 971.9L510.5 971.9L512.5 971.9L514.5 971.9L516.5 971.9L518.5 971.9L520.5 971.8L522.5 971.8L524.5 971.8L526.5 971.8L528.5 971.8L530.5 971.8L532.5 971.7L534.5 971.7L536.5 971.7L538.5 971.7L540.5 971.7L542.5 971.7L544.5 971.6L546.5 971.6L548.5 971.6L550.5 971.6L552.5 971.6L554.5 971.6L556.5 971.5L558.5 971.5L560.5 971.5L562.5 971.5L564.5 971.5L566.5 971.5L568.5 971.5L570.5 971.5L572.5 971.4L574.5 971.4L576.5 971.4L578.5 971.4L580.5 971.4L582.5 971.4L584.5 971.4L586.5 971.4L588.5 971.4L590.5 971.3L592.5 971.3L594.5 971.3L596.5 971.3L598.5 971.3L600.5 971.3L602.5 971.3L604.5 971.3L606.5 971.3L608.5 971.3L610.5 971.2L612.5 971.2L614.5 971.2L616.5 971.2L618.5 971.2L620.5 971.2L622.5 971.2L624.5 971.2L626.5 971.2L628.5 971.2L630.5 971.2L632.5 971.1L634.5 971.1L636.5 971.1L638.5 971.1L640.5 971.1L642.5 971.1L644.5 971.1L646.5 971.1L648.5 971.1L650.5 971.1L652.5 971.0L654.5 971.0L656.5 971.0L658.5 971.0L660.5 971.0L662.5 971.0L664.5 971.0L666.5 971.0L668.5 971.0L670.5 971.0L672.5 970.9L674.5 970.9L676.5 970.9L678.5 970.9L680.5 970.9L682.5 970.9L684.5 970.9L686.5 970.9L688.5 970.9L690.5 970.9L692.5 970.8L694.5 970.8L696.5 970.8L698.5 970.8L700.5 970.8L702.5 970.8L704.5 970.8L702.0 970.8L704.0 970.8Z" fill="#4141bf"/>
</g>
<rect x="107.5" y="576.8" width="30.4" height="30.7" fill="#c3c042" stroke="#000" stroke-width="1.5"/>
<text x="112.6" y="599.9" font-size="19.8" text-anchor="start" fill="#111" textLength="21.5" lengthAdjust="spacingAndGlyphs" >1 s</text>
<rect x="107.5" y="607.5" width="41.0" height="31.7" fill="#aeac54" stroke="#000" stroke-width="1.5"/>
<text x="112.6" y="631.6" font-size="19.8" text-anchor="start" fill="#111" textLength="32.2" lengthAdjust="spacingAndGlyphs" >10 s</text>
<rect x="107.5" y="704.8" width="41.0" height="31.8" fill="#99986e" stroke="#000" stroke-width="1.5"/>
<text x="112.0" y="729.0" font-size="19.8" text-anchor="start" fill="#111" textLength="33.4" lengthAdjust="spacingAndGlyphs" >50 s</text>
<rect x="107.5" y="736.6" width="50.6" height="32.0" fill="#8c8c92" stroke="#000" stroke-width="1.5"/>
<text x="112.0" y="761.0" font-size="19.8" text-anchor="start" fill="#111" textLength="43.6" lengthAdjust="spacingAndGlyphs" >100 s</text>
<rect x="109.9" y="853.9" width="50.6" height="30.9" fill="#7272a0" stroke="#000" stroke-width="1.5"/>
<text x="114.0" y="877.2" font-size="19.8" text-anchor="start" fill="#111" textLength="43.6" lengthAdjust="spacingAndGlyphs" >500 s</text>
<rect x="113.3" y="898.7" width="62.2" height="31.2" fill="#5555b4" stroke="#000" stroke-width="1.5"/>
<text x="118.4" y="922.3" font-size="19.8" text-anchor="start" fill="#111" textLength="53.5" lengthAdjust="spacingAndGlyphs" >1000 s</text>
<rect x="186.5" y="961.3" width="62.6" height="31.7" fill="#4040d4" stroke="#000" stroke-width="1.5"/>
<text x="190.8" y="985.4" font-size="19.8" text-anchor="start" fill="#111" textLength="55.2" lengthAdjust="spacingAndGlyphs" >5000 s</text>
<line x1="125.30" y1="990.80" x2="125.30" y2="1016.50" stroke="#fff" stroke-width="1.6" />
<text x="104.6" y="983.8" font-size="19" text-anchor="start" fill="#fff" textLength="50.2" lengthAdjust="spacingAndGlyphs" >235<tspan font-size="13.5" dy="-6">o</tspan><tspan dy="6">C</tspan></text>
<line x1="340.70" y1="990.80" x2="340.70" y2="1016.50" stroke="#fff" stroke-width="1.6" />
<text x="313.6" y="983.8" font-size="19" text-anchor="start" fill="#fff" textLength="50.2" lengthAdjust="spacingAndGlyphs" >200<tspan font-size="13.5" dy="-6">o</tspan><tspan dy="6">C</tspan></text>
<line x1="635.00" y1="990.80" x2="635.00" y2="1016.50" stroke="#fff" stroke-width="1.6" />
<text x="606.0" y="983.8" font-size="19" text-anchor="start" fill="#fff" textLength="50.2" lengthAdjust="spacingAndGlyphs" >160<tspan font-size="13.5" dy="-6">o</tspan><tspan dy="6">C</tspan></text>
<path d="M92.5 971.98h6.3M702.0 971.98h-6.3M92.5 945.93h6.3M702.0 945.93h-6.3M92.5 927.46h6.3M702.0 927.46h-6.3M92.5 913.12h6.3M702.0 913.12h-6.3M92.5 901.41h6.3M702.0 901.41h-6.3M92.5 891.51h6.3M702.0 891.51h-6.3M92.5 882.93h6.3M702.0 882.93h-6.3M92.5 875.37h6.3M702.0 875.37h-6.3M92.5 868.60h12.6M702.0 868.60h-12.6M92.5 824.08h6.3M702.0 824.08h-6.3M92.5 798.03h6.3M702.0 798.03h-6.3M92.5 779.56h6.3M702.0 779.56h-6.3M92.5 765.22h6.3M702.0 765.22h-6.3M92.5 753.51h6.3M702.0 753.51h-6.3M92.5 743.61h6.3M702.0 743.61h-6.3M92.5 735.03h6.3M702.0 735.03h-6.3M92.5 727.47h6.3M702.0 727.47h-6.3M92.5 720.70h12.6M702.0 720.70h-12.6M92.5 676.18h6.3M702.0 676.18h-6.3M92.5 650.13h6.3M702.0 650.13h-6.3M92.5 631.66h6.3M702.0 631.66h-6.3M92.5 617.32h6.3M702.0 617.32h-6.3M92.5 605.61h6.3M702.0 605.61h-6.3M92.5 595.71h6.3M702.0 595.71h-6.3M92.5 587.13h6.3M702.0 587.13h-6.3M92.5 579.57h6.3M702.0 579.57h-6.3M188.70 1016.5v-12M188.70 572.8v12M317.00 1016.5v-12M317.00 572.8v12M445.30 1016.5v-12M445.30 572.8v12M573.60 1016.5v-12M573.60 572.8v12M124.55 1016.5v-6M124.55 572.8v3M252.85 1016.5v-6M252.85 572.8v6M381.15 1016.5v-6M381.15 572.8v6M509.45 1016.5v-6M509.45 572.8v6M637.75 1016.5v-6M637.75 572.8v6" stroke="#000" stroke-width="1.55" fill="none"/>
<rect x="92.5" y="572.8" width="609.5" height="443.7" fill="none" stroke="#000" stroke-width="1.6"/>
<text x="51.2" y="1024.7" font-size="24.5" fill="#111" textLength="35.6" lengthAdjust="spacingAndGlyphs">10<tspan font-size="19" dy="-9.6">6</tspan></text>
<text x="51.2" y="876.8" font-size="24.5" fill="#111" textLength="35.6" lengthAdjust="spacingAndGlyphs">10<tspan font-size="19" dy="-9.6">7</tspan></text>
<text x="51.2" y="728.9" font-size="24.5" fill="#111" textLength="35.6" lengthAdjust="spacingAndGlyphs">10<tspan font-size="19" dy="-9.6">8</tspan></text>
<text x="51.2" y="581.0" font-size="24.5" fill="#111" textLength="35.6" lengthAdjust="spacingAndGlyphs">10<tspan font-size="19" dy="-9.6">9</tspan></text>
<text x="141.2" y="1050.2" font-size="24.5" fill="#111" textLength="95.5" lengthAdjust="spacingAndGlyphs">1.0x10<tspan font-size="17" dy="-10">−4</tspan></text>
<text x="269.5" y="1050.2" font-size="24.5" fill="#111" textLength="95.5" lengthAdjust="spacingAndGlyphs">2.0x10<tspan font-size="17" dy="-10">−4</tspan></text>
<text x="397.8" y="1050.2" font-size="24.5" fill="#111" textLength="95.5" lengthAdjust="spacingAndGlyphs">3.0x10<tspan font-size="17" dy="-10">−4</tspan></text>
<text x="526.1" y="1050.2" font-size="24.5" fill="#111" textLength="95.5" lengthAdjust="spacingAndGlyphs">4.0x10<tspan font-size="17" dy="-10">−4</tspan></text>
<text x="654.4" y="1050.2" font-size="24.5" fill="#111" textLength="95.5" lengthAdjust="spacingAndGlyphs">5.0x10<tspan font-size="17" dy="-10">−4</tspan></text>
<text x="317.8" y="1087.0" font-size="25.5" fill="#111" textLength="157.4" lengthAdjust="spacingAndGlyphs">G<tspan font-size="17" dy="6">i</tspan><tspan dy="-6">'' / mol cm</tspan><tspan font-size="17" dy="-10">-3</tspan></text>
<text transform="translate(30.0 906.3) rotate(-90)" font-size="25.5" fill="#111" textLength="223.8" lengthAdjust="spacingAndGlyphs">M / Å<tspan font-size="18" dy="-9.5">2</tspan><tspan dy="9.5"> s</tspan><tspan font-size="18" dy="-9.5">-1</tspan><tspan dy="9.5"> cm</tspan><tspan font-size="18" dy="-9.5">3</tspan><tspan dy="9.5"> mol</tspan><tspan font-size="18" dy="-9.5">-1</tspan></text>
<text x="-0.3" y="554.6" font-size="31" text-anchor="start" fill="#000" textLength="38.0" lengthAdjust="spacingAndGlyphs" font-weight="bold" >(c)</text>
<path d="M531.01 608.8v5M531.01 773.9v-5M543.72 608.8v9.5M543.72 773.9v-9.5M556.42 608.8v5M556.42 773.9v-5M569.13 608.8v9.5M569.13 773.9v-9.5M581.84 608.8v5M581.84 773.9v-5M594.55 608.8v9.5M594.55 773.9v-9.5M607.26 608.8v5M607.26 773.9v-5M619.97 608.8v9.5M619.97 773.9v-9.5M632.67 608.8v5M632.67 773.9v-5M645.38 608.8v9.5M645.38 773.9v-9.5M658.09 608.8v5M658.09 773.9v-5M518.3 623.81h9.5M670.8 623.81h-9.5M518.3 638.82h5M670.8 638.82h-5M518.3 653.83h9.5M670.8 653.83h-9.5M518.3 668.84h5M670.8 668.84h-5M518.3 683.85h9.5M670.8 683.85h-9.5M518.3 698.85h5M670.8 698.85h-5M518.3 713.86h9.5M670.8 713.86h-9.5M518.3 728.87h5M670.8 728.87h-5M518.3 743.88h9.5M670.8 743.88h-9.5M518.3 758.89h5M670.8 758.89h-5" stroke="#fff" stroke-width="1.3" fill="none"/>
<rect x="518.3" y="608.8" width="152.5" height="165.1" fill="none" stroke="#fff" stroke-width="1.6"/>
<path d="M518.3 744.3L519.6 710.2L520.8 695.5L522.1 685.2L523.4 677.4L524.7 671.1L525.9 665.9L527.2 661.5L528.5 657.7L529.7 654.5L531.0 651.7L532.3 649.2L533.5 647.0L534.8 645.0L536.1 643.3L537.4 641.7L538.6 640.3L539.9 639.0L541.2 637.8L542.4 636.8L543.7 635.8L545.0 634.9L546.3 634.1L547.5 633.4L548.8 632.7L550.1 632.1L551.3 631.5L552.6 631.0L553.9 630.5L555.2 630.0L556.4 629.6L557.7 629.2L559.0 628.8L560.2 628.5L561.5 628.2L562.8 627.9L564.0 627.6L565.3 627.3L566.6 627.1L567.9 626.9L569.1 626.7L570.4 626.5L571.7 626.3L572.9 626.1L574.2 625.9L575.5 625.8L576.8 625.6L578.0 625.5L579.3 625.4L580.6 625.2L581.8 625.1L583.1 625.0L584.4 624.9L585.7 624.8L586.9 624.7L588.2 624.7L589.5 624.6L590.7 624.5L592.0 624.4L593.3 624.4L594.5 624.3L595.8 624.2L597.1 624.2L598.4 624.1L599.6 624.1L600.9 624.0L602.2 624.0L603.4 623.9L604.7 623.9L606.0 623.8L607.3 623.8L608.5 623.8L609.8 623.7L611.1 623.7L612.3 623.7L613.6 623.6L614.9 623.6L616.2 623.6L617.4 623.6L618.7 623.5L620.0 623.5L621.2 623.5L622.5 623.5L623.8 623.5L625.0 623.4L626.3 623.4L627.6 623.4L628.9 623.4L630.1 623.4L631.4 623.4L632.7 623.3L633.9 623.3L635.2 623.3L636.5 623.3L637.8 623.3L639.0 623.3L640.3 623.3L641.6 623.3L642.8 623.2L644.1 623.2L645.4 623.2L646.7 623.2L647.9 623.2L649.2 623.2L650.5 623.2L651.7 623.2L653.0 623.2L654.3 623.2L655.5 623.2L656.8 623.2L658.1 623.2L659.4 623.1L660.6 623.1L661.9 623.1L663.2 623.1L664.4 623.1L665.7 623.1L667.0 623.1L668.3 623.1L669.5 623.1L670.8 623.1" fill="none" stroke="#fff" stroke-width="2"/>
<line x1="590.90" y1="631.00" x2="590.90" y2="682.50" stroke="#fff" stroke-width="1.6" stroke-dasharray="9.6 6"/>
<line x1="590.90" y1="730.00" x2="590.90" y2="731.50" stroke="#fff" stroke-width="1.6" />
<line x1="590.90" y1="739.00" x2="590.90" y2="773.90" stroke="#fff" stroke-width="1.6" stroke-dasharray="9.6 6"/>
<text x="583.5" y="714.3" font-size="25.5" fill="#fff" textLength="17.4" lengthAdjust="spacingAndGlyphs">t<tspan font-size="17" dy="6.5">e</tspan></text>
<text x="394.5" y="627.0" font-size="25.5" fill="#fff" textLength="117" lengthAdjust="spacingAndGlyphs">T<tspan font-size="17" dy="6">f</tspan><tspan dy="-6"> = 240</tspan><tspan font-size="18.5" dy="-9.5">o</tspan><tspan dy="9.5">C</tspan></text>
<text x="483.3" y="777.2" font-size="25.5" fill="#fff" textLength="16.7" lengthAdjust="spacingAndGlyphs">T<tspan font-size="17" dy="7">i</tspan></text>
<text x="570.2" y="804.8" font-size="25.5" text-anchor="start" fill="#fff" textLength="43.4" lengthAdjust="spacingAndGlyphs" >t / s</text>
</g>
</svg>
</body></html>
